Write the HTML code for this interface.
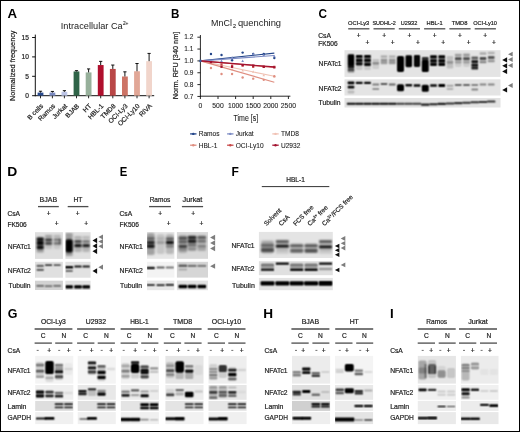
<!DOCTYPE html>
<html><head><meta charset="utf-8"><style>
html,body{margin:0;padding:0;background:#fff;}
body{width:520px;height:432px;overflow:hidden;}
svg{display:block;font-family:"Liberation Sans", sans-serif;will-change:transform;}
text{stroke:currentColor;}
</style></head><body>
<svg width="520" height="432" viewBox="0 0 520 432">
<defs>
<filter id="k1" x="-20%" y="-20%" width="140%" height="140%"><feConvolveMatrix order="3" kernelMatrix="1 2 1 2 4 2 1 2 1" divisor="16" edgeMode="none"/></filter><filter id="k2" x="-20%" y="-20%" width="140%" height="140%"><feConvolveMatrix order="3" kernelMatrix="1 2 1 2 4 2 1 2 1" divisor="16" edgeMode="none"/><feConvolveMatrix order="3" kernelMatrix="1 2 1 2 4 2 1 2 1" divisor="16" edgeMode="none"/></filter>
</defs>
<rect width="520" height="432" fill="#fff"/>
<text transform="translate(7.57 17.80) scale(1.049 1)" font-size="12.65" font-weight="bold" fill="#000" stroke-width="0">A</text>
<text x="60.80" y="28.50" font-size="9.1" fill="#1a1a1a" style="color:#1a1a1a" stroke-width="0.0" textLength="61.90" lengthAdjust="spacingAndGlyphs">Intracellular Ca</text>
<text x="122.90" y="25.00" font-size="4.8" fill="#1a1a1a" style="color:#1a1a1a" stroke-width="0.1">2+</text>
<text x="14.60" y="100.90" font-size="7.6" fill="#1a1a1a" style="color:#1a1a1a" stroke-width="0.2" textLength="70.30" lengthAdjust="spacingAndGlyphs" transform="rotate(-90 14.60 100.90)">Normalized frequency</text>
<line x1="35.30" y1="34.60" x2="35.30" y2="96.20" stroke="#111" stroke-width="1.0"/>
<line x1="34.80" y1="95.70" x2="154.20" y2="95.70" stroke="#111" stroke-width="1.0"/>
<line x1="32.10" y1="95.70" x2="35.30" y2="95.70" stroke="#111" stroke-width="1.0"/>
<text x="28.90" y="98.00" font-size="6.6" text-anchor="end" fill="#222" style="color:#222" stroke-width="0.2">0</text>
<line x1="32.10" y1="76.30" x2="35.30" y2="76.30" stroke="#111" stroke-width="1.0"/>
<text x="28.90" y="78.60" font-size="6.6" text-anchor="end" fill="#222" style="color:#222" stroke-width="0.2">5</text>
<line x1="32.10" y1="56.90" x2="35.30" y2="56.90" stroke="#111" stroke-width="1.0"/>
<text x="28.90" y="59.20" font-size="6.6" text-anchor="end" fill="#222" style="color:#222" stroke-width="0.2">10</text>
<line x1="32.10" y1="37.50" x2="35.30" y2="37.50" stroke="#111" stroke-width="1.0"/>
<text x="28.90" y="39.80" font-size="6.6" text-anchor="end" fill="#222" style="color:#222" stroke-width="0.2">15</text>
<rect x="37.60" y="92.60" width="5.80" height="3.10" fill="#284a8c"/>
<line x1="40.50" y1="92.60" x2="40.50" y2="91.24" stroke="#111" stroke-width="1.0"/>
<line x1="38.90" y1="91.24" x2="42.10" y2="91.24" stroke="#111" stroke-width="1.0"/>
<line x1="40.50" y1="95.70" x2="40.50" y2="98.30" stroke="#111" stroke-width="0.9"/>
<text x="43.70" y="106.50" font-size="6.6" text-anchor="end" fill="#222" style="color:#222" stroke-width="0.2" transform="rotate(-45 43.70 106.50)">B cells</text>
<rect x="49.50" y="92.60" width="5.80" height="3.10" fill="#7b8ac1"/>
<line x1="52.40" y1="92.60" x2="52.40" y2="91.43" stroke="#111" stroke-width="1.0"/>
<line x1="50.80" y1="91.43" x2="54.00" y2="91.43" stroke="#111" stroke-width="1.0"/>
<line x1="52.40" y1="95.70" x2="52.40" y2="98.30" stroke="#111" stroke-width="0.9"/>
<text x="55.60" y="106.50" font-size="6.6" text-anchor="end" fill="#222" style="color:#222" stroke-width="0.2" transform="rotate(-45 55.60 106.50)">Ramos</text>
<rect x="61.50" y="91.82" width="5.80" height="3.88" fill="#bdc5e6"/>
<line x1="64.40" y1="91.82" x2="64.40" y2="90.66" stroke="#111" stroke-width="1.0"/>
<line x1="62.80" y1="90.66" x2="66.00" y2="90.66" stroke="#111" stroke-width="1.0"/>
<line x1="64.40" y1="95.70" x2="64.40" y2="98.30" stroke="#111" stroke-width="0.9"/>
<text x="67.60" y="106.50" font-size="6.6" text-anchor="end" fill="#222" style="color:#222" stroke-width="0.2" transform="rotate(-45 67.60 106.50)">Jurkat</text>
<rect x="73.60" y="71.45" width="5.80" height="24.25" fill="#2f6448"/>
<line x1="76.50" y1="71.45" x2="76.50" y2="70.67" stroke="#111" stroke-width="1.0"/>
<line x1="74.90" y1="70.67" x2="78.10" y2="70.67" stroke="#111" stroke-width="1.0"/>
<line x1="76.50" y1="95.70" x2="76.50" y2="98.30" stroke="#111" stroke-width="0.9"/>
<text x="79.70" y="106.50" font-size="6.6" text-anchor="end" fill="#222" style="color:#222" stroke-width="0.2" transform="rotate(-45 79.70 106.50)">BJAB</text>
<rect x="85.70" y="72.42" width="5.80" height="23.28" fill="#97b09b"/>
<line x1="88.60" y1="72.42" x2="88.60" y2="68.93" stroke="#111" stroke-width="1.0"/>
<line x1="87.00" y1="68.93" x2="90.20" y2="68.93" stroke="#111" stroke-width="1.0"/>
<line x1="88.60" y1="95.70" x2="88.60" y2="98.30" stroke="#111" stroke-width="0.9"/>
<text x="91.80" y="106.50" font-size="6.6" text-anchor="end" fill="#222" style="color:#222" stroke-width="0.2" transform="rotate(-45 91.80 106.50)">HT</text>
<rect x="97.80" y="65.05" width="5.80" height="30.65" fill="#b0102e"/>
<line x1="100.70" y1="65.05" x2="100.70" y2="61.36" stroke="#111" stroke-width="1.0"/>
<line x1="99.10" y1="61.36" x2="102.30" y2="61.36" stroke="#111" stroke-width="1.0"/>
<line x1="100.70" y1="95.70" x2="100.70" y2="98.30" stroke="#111" stroke-width="0.9"/>
<text x="103.90" y="106.50" font-size="6.6" text-anchor="end" fill="#222" style="color:#222" stroke-width="0.2" transform="rotate(-45 103.90 106.50)">HBL-1</text>
<rect x="109.90" y="68.93" width="5.80" height="26.77" fill="#b94747"/>
<line x1="112.80" y1="68.93" x2="112.80" y2="65.05" stroke="#111" stroke-width="1.0"/>
<line x1="111.20" y1="65.05" x2="114.40" y2="65.05" stroke="#111" stroke-width="1.0"/>
<line x1="112.80" y1="95.70" x2="112.80" y2="98.30" stroke="#111" stroke-width="0.9"/>
<text x="116.00" y="106.50" font-size="6.6" text-anchor="end" fill="#222" style="color:#222" stroke-width="0.2" transform="rotate(-45 116.00 106.50)">TMD8</text>
<rect x="122.00" y="76.49" width="5.80" height="19.21" fill="#cd7466"/>
<line x1="124.90" y1="76.49" x2="124.90" y2="71.84" stroke="#111" stroke-width="1.0"/>
<line x1="123.30" y1="71.84" x2="126.50" y2="71.84" stroke="#111" stroke-width="1.0"/>
<line x1="124.90" y1="95.70" x2="124.90" y2="98.30" stroke="#111" stroke-width="0.9"/>
<text x="128.10" y="106.50" font-size="6.6" text-anchor="end" fill="#222" style="color:#222" stroke-width="0.2" transform="rotate(-45 128.10 106.50)">OCI-Ly3</text>
<rect x="134.10" y="71.26" width="5.80" height="24.44" fill="#e1a797"/>
<line x1="137.00" y1="71.26" x2="137.00" y2="63.50" stroke="#111" stroke-width="1.0"/>
<line x1="135.40" y1="63.50" x2="138.60" y2="63.50" stroke="#111" stroke-width="1.0"/>
<line x1="137.00" y1="95.70" x2="137.00" y2="98.30" stroke="#111" stroke-width="0.9"/>
<text x="140.20" y="106.50" font-size="6.6" text-anchor="end" fill="#222" style="color:#222" stroke-width="0.2" transform="rotate(-45 140.20 106.50)">OCI-Ly10</text>
<rect x="146.20" y="61.17" width="5.80" height="34.53" fill="#f1d5cb"/>
<line x1="149.10" y1="61.17" x2="149.10" y2="53.41" stroke="#111" stroke-width="1.0"/>
<line x1="147.50" y1="53.41" x2="150.70" y2="53.41" stroke="#111" stroke-width="1.0"/>
<line x1="149.10" y1="95.70" x2="149.10" y2="98.30" stroke="#111" stroke-width="0.9"/>
<text x="152.30" y="106.50" font-size="6.6" text-anchor="end" fill="#222" style="color:#222" stroke-width="0.2" transform="rotate(-45 152.30 106.50)">RIVA</text>
<text transform="translate(171.02 17.80) scale(0.942 1)" font-size="12.35" font-weight="bold" fill="#000" stroke-width="0">B</text>
<text x="211.10" y="25.50" font-size="8.7" fill="#1a1a1a" style="color:#1a1a1a" stroke-width="0.0" textLength="20.80" lengthAdjust="spacingAndGlyphs">MnCl</text>
<text x="233.00" y="28.40" font-size="5.4" fill="#1a1a1a" style="color:#1a1a1a" stroke-width="0.1">2</text>
<text x="237.90" y="25.50" font-size="8.7" fill="#1a1a1a" style="color:#1a1a1a" stroke-width="0.0" textLength="43.20" lengthAdjust="spacingAndGlyphs">quenching</text>
<text x="177.60" y="99.30" font-size="7.8" fill="#1a1a1a" style="color:#1a1a1a" stroke-width="0.2" textLength="67.60" lengthAdjust="spacingAndGlyphs" transform="rotate(-90 177.60 99.30)">Norm. RFU [340 nm]</text>
<line x1="200.40" y1="35.00" x2="200.40" y2="96.60" stroke="#111" stroke-width="0.9"/>
<line x1="200.00" y1="96.20" x2="290.40" y2="96.20" stroke="#111" stroke-width="0.9"/>
<line x1="197.40" y1="96.45" x2="200.40" y2="96.45" stroke="#111" stroke-width="0.9"/>
<text x="193.40" y="98.65" font-size="6.5" text-anchor="end" fill="#222" style="color:#222" stroke-width="0.08">0.7</text>
<line x1="197.40" y1="84.60" x2="200.40" y2="84.60" stroke="#111" stroke-width="0.9"/>
<text x="193.40" y="86.80" font-size="6.5" text-anchor="end" fill="#222" style="color:#222" stroke-width="0.08">0.8</text>
<line x1="197.40" y1="72.75" x2="200.40" y2="72.75" stroke="#111" stroke-width="0.9"/>
<text x="193.40" y="74.95" font-size="6.5" text-anchor="end" fill="#222" style="color:#222" stroke-width="0.08">0.9</text>
<line x1="197.40" y1="60.90" x2="200.40" y2="60.90" stroke="#111" stroke-width="0.9"/>
<text x="193.40" y="63.10" font-size="6.5" text-anchor="end" fill="#222" style="color:#222" stroke-width="0.08">1.0</text>
<line x1="197.40" y1="49.05" x2="200.40" y2="49.05" stroke="#111" stroke-width="0.9"/>
<text x="193.40" y="51.25" font-size="6.5" text-anchor="end" fill="#222" style="color:#222" stroke-width="0.08">1.1</text>
<line x1="197.40" y1="37.20" x2="200.40" y2="37.20" stroke="#111" stroke-width="0.9"/>
<text x="193.40" y="39.40" font-size="6.5" text-anchor="end" fill="#222" style="color:#222" stroke-width="0.08">1.2</text>
<line x1="200.40" y1="96.20" x2="200.40" y2="99.00" stroke="#111" stroke-width="0.9"/>
<text x="200.40" y="107.60" font-size="6.8" text-anchor="middle" fill="#222" style="color:#222" stroke-width="0.08">0</text>
<line x1="218.00" y1="96.20" x2="218.00" y2="99.00" stroke="#111" stroke-width="0.9"/>
<text x="218.00" y="107.60" font-size="6.8" text-anchor="middle" fill="#222" style="color:#222" stroke-width="0.08">500</text>
<line x1="235.60" y1="96.20" x2="235.60" y2="99.00" stroke="#111" stroke-width="0.9"/>
<text x="235.60" y="107.60" font-size="6.8" text-anchor="middle" fill="#222" style="color:#222" stroke-width="0.08">1000</text>
<line x1="253.20" y1="96.20" x2="253.20" y2="99.00" stroke="#111" stroke-width="0.9"/>
<text x="253.20" y="107.60" font-size="6.8" text-anchor="middle" fill="#222" style="color:#222" stroke-width="0.08">1500</text>
<line x1="270.80" y1="96.20" x2="270.80" y2="99.00" stroke="#111" stroke-width="0.9"/>
<text x="270.80" y="107.60" font-size="6.8" text-anchor="middle" fill="#222" style="color:#222" stroke-width="0.08">2000</text>
<line x1="288.40" y1="96.20" x2="288.40" y2="99.00" stroke="#111" stroke-width="0.9"/>
<text x="288.40" y="107.60" font-size="6.8" text-anchor="middle" fill="#222" style="color:#222" stroke-width="0.08">2500</text>
<text x="245.80" y="121.30" font-size="8.5" text-anchor="middle" fill="#1a1a1a" style="color:#1a1a1a" stroke-width="0.08" textLength="24.60" lengthAdjust="spacingAndGlyphs">Time [s]</text>
<line x1="200.40" y1="60.90" x2="274.32" y2="53.08" stroke="#24468a" stroke-width="1.1"/>
<circle cx="210.96" cy="54.03" r="1.2" fill="#24468a"/>
<circle cx="221.52" cy="54.97" r="1.2" fill="#24468a"/>
<circle cx="232.08" cy="60.31" r="1.2" fill="#24468a"/>
<circle cx="242.64" cy="52.60" r="1.2" fill="#24468a"/>
<circle cx="253.20" cy="54.03" r="1.2" fill="#24468a"/>
<circle cx="263.76" cy="54.03" r="1.2" fill="#24468a"/>
<circle cx="274.32" cy="57.94" r="1.2" fill="#24468a"/>
<line x1="200.40" y1="60.90" x2="274.32" y2="55.57" stroke="#7d8cc4" stroke-width="1.1"/>
<path d="M209.66 63.19 L212.26 63.19 L210.96 60.79Z" fill="#7d8cc4"/>
<path d="M220.22 62.00 L222.82 62.00 L221.52 59.60Z" fill="#7d8cc4"/>
<path d="M230.78 58.45 L233.38 58.45 L232.08 56.05Z" fill="#7d8cc4"/>
<path d="M241.34 62.00 L243.94 62.00 L242.64 59.60Z" fill="#7d8cc4"/>
<path d="M251.90 54.89 L254.50 54.89 L253.20 52.49Z" fill="#7d8cc4"/>
<path d="M262.46 56.07 L265.06 56.07 L263.76 53.67Z" fill="#7d8cc4"/>
<path d="M273.02 57.26 L275.62 57.26 L274.32 54.86Z" fill="#7d8cc4"/>
<line x1="200.40" y1="60.90" x2="274.32" y2="76.31" stroke="#f0c2b4" stroke-width="1.1"/>
<path d="M209.66 63.19 L212.26 63.19 L210.96 60.79Z" fill="#f0c2b4"/>
<path d="M220.22 66.74 L222.82 66.74 L221.52 64.34Z" fill="#f0c2b4"/>
<path d="M230.78 70.29 L233.38 70.29 L232.08 67.89Z" fill="#f0c2b4"/>
<path d="M241.34 71.48 L243.94 71.48 L242.64 69.08Z" fill="#f0c2b4"/>
<path d="M251.90 72.66 L254.50 72.66 L253.20 70.27Z" fill="#f0c2b4"/>
<path d="M262.46 76.22 L265.06 76.22 L263.76 73.82Z" fill="#f0c2b4"/>
<path d="M273.02 77.41 L275.62 77.41 L274.32 75.01Z" fill="#f0c2b4"/>
<line x1="200.40" y1="60.90" x2="274.32" y2="82.23" stroke="#df8e80" stroke-width="1.1"/>
<circle cx="210.96" cy="68.01" r="1.2" fill="#df8e80"/>
<circle cx="221.52" cy="73.94" r="1.2" fill="#df8e80"/>
<circle cx="232.08" cy="73.94" r="1.2" fill="#df8e80"/>
<circle cx="242.64" cy="77.49" r="1.2" fill="#df8e80"/>
<circle cx="253.20" cy="78.67" r="1.2" fill="#df8e80"/>
<circle cx="263.76" cy="79.86" r="1.2" fill="#df8e80"/>
<circle cx="274.32" cy="76.31" r="1.2" fill="#df8e80"/>
<line x1="200.40" y1="60.90" x2="274.32" y2="67.42" stroke="#c84848" stroke-width="1.1"/>
<rect x="209.86" y="60.98" width="2.20" height="2.20" fill="#c84848"/>
<rect x="220.42" y="63.35" width="2.20" height="2.20" fill="#c84848"/>
<rect x="230.98" y="64.54" width="2.20" height="2.20" fill="#c84848"/>
<rect x="241.54" y="64.54" width="2.20" height="2.20" fill="#c84848"/>
<rect x="252.10" y="65.73" width="2.20" height="2.20" fill="#c84848"/>
<rect x="262.66" y="65.73" width="2.20" height="2.20" fill="#c84848"/>
<rect x="273.22" y="65.73" width="2.20" height="2.20" fill="#c84848"/>
<line x1="200.40" y1="60.90" x2="274.32" y2="66.83" stroke="#a3122f" stroke-width="1.1"/>
<rect x="209.86" y="60.98" width="2.20" height="2.20" fill="#a3122f"/>
<rect x="220.42" y="65.73" width="2.20" height="2.20" fill="#a3122f"/>
<rect x="230.98" y="65.73" width="2.20" height="2.20" fill="#a3122f"/>
<rect x="241.54" y="63.95" width="2.20" height="2.20" fill="#a3122f"/>
<rect x="252.10" y="64.54" width="2.20" height="2.20" fill="#a3122f"/>
<rect x="262.66" y="65.73" width="2.20" height="2.20" fill="#a3122f"/>
<rect x="273.22" y="66.32" width="2.20" height="2.20" fill="#a3122f"/>
<circle cx="200.40" cy="60.90" r="1.3" fill="#3a5a9a"/>
<line x1="190.10" y1="133.90" x2="196.50" y2="133.90" stroke="#24468a" stroke-width="1.3"/>
<circle cx="193.30" cy="133.90" r="1.2" fill="#24468a"/>
<text x="198.70" y="136.20" font-size="6.6" fill="#222" style="color:#222" stroke-width="0.08">Ramos</text>
<line x1="227.10" y1="133.90" x2="233.50" y2="133.90" stroke="#7d8cc4" stroke-width="1.3"/>
<circle cx="230.30" cy="133.90" r="1.2" fill="#7d8cc4"/>
<text x="235.70" y="136.20" font-size="6.6" fill="#222" style="color:#222" stroke-width="0.08">Jurkat</text>
<line x1="272.30" y1="133.90" x2="278.70" y2="133.90" stroke="#f0c2b4" stroke-width="1.3"/>
<circle cx="275.50" cy="133.90" r="1.2" fill="#f0c2b4"/>
<text x="280.90" y="136.20" font-size="6.6" fill="#222" style="color:#222" stroke-width="0.08">TMD8</text>
<line x1="190.10" y1="145.20" x2="196.50" y2="145.20" stroke="#df8e80" stroke-width="1.3"/>
<circle cx="193.30" cy="145.20" r="1.2" fill="#df8e80"/>
<text x="198.70" y="147.50" font-size="6.6" fill="#222" style="color:#222" stroke-width="0.08">HBL-1</text>
<line x1="227.10" y1="145.20" x2="233.50" y2="145.20" stroke="#c84848" stroke-width="1.3"/>
<circle cx="230.30" cy="145.20" r="1.2" fill="#c84848"/>
<text x="235.70" y="147.50" font-size="6.6" fill="#222" style="color:#222" stroke-width="0.08">OCI-Ly10</text>
<line x1="272.30" y1="145.20" x2="278.70" y2="145.20" stroke="#a3122f" stroke-width="1.3"/>
<circle cx="275.50" cy="145.20" r="1.2" fill="#a3122f"/>
<text x="280.90" y="147.50" font-size="6.6" fill="#222" style="color:#222" stroke-width="0.08">U2932</text>
<text transform="translate(318.52 18.07) scale(0.916 1)" font-size="12.85" font-weight="bold" fill="#000" stroke-width="0">C</text>
<text x="358.70" y="24.50" font-size="5.8" text-anchor="middle" fill="#222" style="color:#222" stroke-width="0.2" textLength="21.20" lengthAdjust="spacingAndGlyphs">OCI-Ly3</text>
<text x="384.10" y="24.50" font-size="5.8" text-anchor="middle" fill="#222" style="color:#222" stroke-width="0.2" textLength="23.40" lengthAdjust="spacingAndGlyphs">SUDHL-2</text>
<text x="409.00" y="24.50" font-size="5.8" text-anchor="middle" fill="#222" style="color:#222" stroke-width="0.2" textLength="16.60" lengthAdjust="spacingAndGlyphs">U2932</text>
<text x="434.60" y="24.50" font-size="5.8" text-anchor="middle" fill="#222" style="color:#222" stroke-width="0.2" textLength="16.20" lengthAdjust="spacingAndGlyphs">HBL-1</text>
<text x="459.60" y="24.50" font-size="5.8" text-anchor="middle" fill="#222" style="color:#222" stroke-width="0.2" textLength="15.80" lengthAdjust="spacingAndGlyphs">TMD8</text>
<text x="485.10" y="24.50" font-size="5.8" text-anchor="middle" fill="#222" style="color:#222" stroke-width="0.2" textLength="23.80" lengthAdjust="spacingAndGlyphs">OCI-Ly10</text>
<line x1="348.20" y1="28.80" x2="369.40" y2="28.80" stroke="#4d4d4d" stroke-width="1.3"/>
<line x1="373.50" y1="28.80" x2="394.70" y2="28.80" stroke="#4d4d4d" stroke-width="1.3"/>
<line x1="398.80" y1="28.80" x2="420.00" y2="28.80" stroke="#4d4d4d" stroke-width="1.3"/>
<line x1="424.10" y1="28.80" x2="445.30" y2="28.80" stroke="#4d4d4d" stroke-width="1.3"/>
<line x1="449.40" y1="28.80" x2="470.60" y2="28.80" stroke="#4d4d4d" stroke-width="1.3"/>
<line x1="474.70" y1="28.80" x2="495.90" y2="28.80" stroke="#4d4d4d" stroke-width="1.3"/>
<text x="318.30" y="38.00" font-size="6.6" fill="#1e1e1e" style="color:#1e1e1e" stroke-width="0.2" textLength="12.60" lengthAdjust="spacingAndGlyphs">CsA</text>
<text x="318.30" y="46.00" font-size="6.6" fill="#1e1e1e" style="color:#1e1e1e" stroke-width="0.2" textLength="19.40" lengthAdjust="spacingAndGlyphs">FK506</text>
<text x="358.80" y="37.75" font-size="6.6" text-anchor="middle" fill="#222" style="color:#222" stroke-width="0.2">+</text>
<text x="367.40" y="44.65" font-size="6.6" text-anchor="middle" fill="#222" style="color:#222" stroke-width="0.2">+</text>
<text x="384.10" y="37.75" font-size="6.6" text-anchor="middle" fill="#222" style="color:#222" stroke-width="0.2">+</text>
<text x="392.70" y="44.65" font-size="6.6" text-anchor="middle" fill="#222" style="color:#222" stroke-width="0.2">+</text>
<text x="409.40" y="37.75" font-size="6.6" text-anchor="middle" fill="#222" style="color:#222" stroke-width="0.2">+</text>
<text x="418.00" y="44.65" font-size="6.6" text-anchor="middle" fill="#222" style="color:#222" stroke-width="0.2">+</text>
<text x="434.70" y="37.75" font-size="6.6" text-anchor="middle" fill="#222" style="color:#222" stroke-width="0.2">+</text>
<text x="443.30" y="44.65" font-size="6.6" text-anchor="middle" fill="#222" style="color:#222" stroke-width="0.2">+</text>
<text x="460.00" y="37.75" font-size="6.6" text-anchor="middle" fill="#222" style="color:#222" stroke-width="0.2">+</text>
<text x="468.60" y="44.65" font-size="6.6" text-anchor="middle" fill="#222" style="color:#222" stroke-width="0.2">+</text>
<text x="485.30" y="37.75" font-size="6.6" text-anchor="middle" fill="#222" style="color:#222" stroke-width="0.2">+</text>
<text x="493.90" y="44.65" font-size="6.6" text-anchor="middle" fill="#222" style="color:#222" stroke-width="0.2">+</text>
<text x="318.60" y="66.40" font-size="7.1" fill="#1e1e1e" style="color:#1e1e1e" stroke-width="0.2" textLength="23.00" lengthAdjust="spacingAndGlyphs">NFATc1</text>
<text x="318.60" y="90.60" font-size="7.1" fill="#1e1e1e" style="color:#1e1e1e" stroke-width="0.2" textLength="23.00" lengthAdjust="spacingAndGlyphs">NFATc2</text>
<text x="318.60" y="104.60" font-size="7.1" fill="#1e1e1e" style="color:#1e1e1e" stroke-width="0.2" textLength="22.00" lengthAdjust="spacingAndGlyphs">Tubulin</text>
<clipPath id="c193"><rect x="344.50" y="50.20" width="156.00" height="26.70"/></clipPath>
<rect x="344.50" y="50.20" width="156.00" height="26.70" fill="#e4e4e4"/>
<g clip-path="url(#c193)"><g filter="url(#k1)"><rect x="347.70" y="54.25" width="6.60" height="11.50" rx="1.48" fill-opacity="1.00"/><rect x="347.70" y="65.00" width="6.60" height="3.00" rx="0.68" fill-opacity="0.90"/><rect x="347.70" y="68.20" width="6.60" height="2.60" rx="0.59" fill-opacity="0.75"/><rect x="347.70" y="70.50" width="6.60" height="2.00" rx="0.45" fill-opacity="0.40"/><rect x="355.95" y="55.00" width="6.60" height="2.80" rx="0.63" fill-opacity="1.00"/><rect x="355.95" y="59.00" width="6.60" height="2.80" rx="0.63" fill-opacity="1.00"/><rect x="355.95" y="62.60" width="6.60" height="2.80" rx="0.63" fill-opacity="0.95"/><rect x="355.95" y="55.70" width="6.60" height="9.00" rx="1.48" fill-opacity="0.45"/><rect x="355.95" y="66.00" width="6.60" height="4.00" rx="0.90" fill-opacity="0.12"/><rect x="364.20" y="55.00" width="6.60" height="2.80" rx="0.63" fill-opacity="1.00"/><rect x="364.20" y="59.00" width="6.60" height="2.80" rx="0.63" fill-opacity="1.00"/><rect x="364.20" y="63.10" width="6.60" height="2.80" rx="0.63" fill-opacity="0.95"/><rect x="364.20" y="55.90" width="6.60" height="9.00" rx="1.48" fill-opacity="0.45"/><rect x="364.20" y="66.00" width="6.60" height="4.00" rx="0.90" fill-opacity="0.12"/><rect x="372.45" y="59.30" width="6.60" height="2.20" rx="0.50" fill-opacity="0.18"/><rect x="372.45" y="62.00" width="6.60" height="2.60" rx="0.59" fill-opacity="0.38"/><rect x="372.45" y="64.00" width="6.60" height="5.00" rx="1.12" fill-opacity="0.10"/><rect x="380.70" y="55.20" width="6.60" height="2.40" rx="0.54" fill-opacity="0.20"/><rect x="380.70" y="59.10" width="6.60" height="2.60" rx="0.59" fill-opacity="0.30"/><rect x="380.70" y="61.80" width="6.60" height="2.40" rx="0.54" fill-opacity="0.26"/><rect x="380.70" y="56.00" width="6.60" height="8.00" rx="1.48" fill-opacity="0.08"/><rect x="388.95" y="55.20" width="6.60" height="2.40" rx="0.54" fill-opacity="0.18"/><rect x="388.95" y="59.10" width="6.60" height="2.60" rx="0.59" fill-opacity="0.30"/><rect x="388.95" y="61.80" width="6.60" height="2.40" rx="0.54" fill-opacity="0.28"/><rect x="388.95" y="56.00" width="6.60" height="8.00" rx="1.48" fill-opacity="0.08"/><rect x="397.04" y="55.90" width="6.93" height="16.00" rx="1.56" fill-opacity="1.00"/><rect x="405.45" y="55.20" width="6.60" height="12.00" rx="1.48" fill-opacity="1.00"/><rect x="413.87" y="55.00" width="6.27" height="12.00" rx="1.41" fill-opacity="0.97"/><rect x="421.95" y="57.00" width="6.60" height="4.00" rx="0.90" fill-opacity="0.80"/><rect x="421.79" y="60.00" width="6.93" height="12.00" rx="1.56" fill-opacity="1.00"/><rect x="430.20" y="55.20" width="6.60" height="2.80" rx="0.63" fill-opacity="1.00"/><rect x="430.20" y="59.40" width="6.60" height="2.80" rx="0.63" fill-opacity="1.00"/><rect x="430.20" y="63.10" width="6.60" height="2.80" rx="0.63" fill-opacity="0.95"/><rect x="430.20" y="56.00" width="6.60" height="9.00" rx="1.48" fill-opacity="0.50"/><rect x="438.45" y="55.20" width="6.60" height="2.80" rx="0.63" fill-opacity="1.00"/><rect x="438.45" y="59.40" width="6.60" height="2.80" rx="0.63" fill-opacity="1.00"/><rect x="438.45" y="63.10" width="6.60" height="2.80" rx="0.63" fill-opacity="0.95"/><rect x="438.45" y="56.00" width="6.60" height="9.00" rx="1.48" fill-opacity="0.50"/><rect x="446.70" y="56.00" width="6.60" height="4.00" rx="0.90" fill-opacity="0.16"/><rect x="446.70" y="60.50" width="6.60" height="3.00" rx="0.68" fill-opacity="0.32"/><rect x="446.70" y="62.50" width="6.60" height="6.00" rx="1.35" fill-opacity="0.16"/><rect x="454.95" y="53.70" width="6.60" height="2.40" rx="0.54" fill-opacity="0.28"/><rect x="454.95" y="57.30" width="6.60" height="2.80" rx="0.63" fill-opacity="0.62"/><rect x="454.95" y="60.50" width="6.60" height="3.00" rx="0.68" fill-opacity="0.22"/><rect x="454.95" y="55.00" width="6.60" height="12.00" rx="1.48" fill-opacity="0.10"/><rect x="463.20" y="53.50" width="6.60" height="2.40" rx="0.54" fill-opacity="0.30"/><rect x="463.20" y="57.20" width="6.60" height="2.80" rx="0.63" fill-opacity="0.62"/><rect x="463.20" y="60.50" width="6.60" height="3.00" rx="0.68" fill-opacity="0.22"/><rect x="463.20" y="55.00" width="6.60" height="12.00" rx="1.48" fill-opacity="0.10"/><rect x="471.45" y="56.50" width="6.60" height="2.60" rx="0.59" fill-opacity="0.50"/><rect x="471.45" y="60.20" width="6.60" height="2.80" rx="0.63" fill-opacity="0.88"/><rect x="471.45" y="63.80" width="6.60" height="2.80" rx="0.63" fill-opacity="0.90"/><rect x="471.45" y="66.80" width="6.60" height="2.80" rx="0.63" fill-opacity="0.80"/><rect x="471.45" y="57.00" width="6.60" height="12.00" rx="1.48" fill-opacity="0.20"/><rect x="479.70" y="52.30" width="6.60" height="2.40" rx="0.54" fill-opacity="0.25"/><rect x="479.70" y="57.10" width="6.60" height="2.80" rx="0.63" fill-opacity="0.65"/><rect x="479.70" y="60.70" width="6.60" height="2.60" rx="0.59" fill-opacity="0.40"/><rect x="487.95" y="51.80" width="6.60" height="2.40" rx="0.54" fill-opacity="0.22"/><rect x="487.95" y="56.10" width="6.60" height="2.80" rx="0.63" fill-opacity="0.60"/><rect x="487.95" y="59.70" width="6.60" height="2.60" rx="0.59" fill-opacity="0.35"/></g></g>
<clipPath id="c196"><rect x="344.50" y="79.30" width="156.00" height="16.20"/></clipPath>
<rect x="344.50" y="79.30" width="156.00" height="16.20" fill="#e4e4e4"/>
<g clip-path="url(#c196)"><g filter="url(#k1)"><rect x="347.70" y="81.60" width="6.60" height="2.60" rx="0.59" fill-opacity="1.00"/><rect x="347.70" y="85.80" width="6.60" height="2.60" rx="0.59" fill-opacity="0.95"/><rect x="347.70" y="90.50" width="6.60" height="3.00" rx="0.68" fill-opacity="0.18"/><rect x="355.95" y="81.80" width="6.60" height="2.20" rx="0.50" fill-opacity="0.95"/><rect x="364.20" y="81.80" width="6.60" height="2.20" rx="0.50" fill-opacity="0.95"/><rect x="372.45" y="83.40" width="6.60" height="2.20" rx="0.50" fill-opacity="0.45"/><rect x="372.45" y="87.90" width="6.60" height="2.20" rx="0.50" fill-opacity="0.35"/><rect x="380.70" y="83.00" width="6.60" height="2.00" rx="0.45" fill-opacity="0.60"/><rect x="388.95" y="83.50" width="6.60" height="2.00" rx="0.45" fill-opacity="0.55"/><rect x="397.04" y="84.30" width="6.93" height="7.00" rx="1.56" fill-opacity="1.00"/><rect x="405.45" y="84.00" width="6.60" height="2.40" rx="0.54" fill-opacity="0.95"/><rect x="413.70" y="84.30" width="6.60" height="2.40" rx="0.54" fill-opacity="0.95"/><rect x="421.79" y="84.70" width="6.93" height="7.00" rx="1.56" fill-opacity="1.00"/><rect x="430.20" y="84.30" width="6.60" height="2.40" rx="0.54" fill-opacity="0.95"/><rect x="438.45" y="84.00" width="6.60" height="3.00" rx="0.68" fill-opacity="1.00"/><rect x="446.70" y="84.70" width="6.60" height="2.00" rx="0.45" fill-opacity="0.28"/><rect x="446.70" y="88.00" width="6.60" height="2.00" rx="0.45" fill-opacity="0.22"/><rect x="454.95" y="84.00" width="6.60" height="2.00" rx="0.45" fill-opacity="0.55"/><rect x="463.20" y="84.00" width="6.60" height="2.00" rx="0.45" fill-opacity="0.55"/><rect x="471.45" y="84.00" width="6.60" height="2.00" rx="0.45" fill-opacity="0.42"/><rect x="471.45" y="88.50" width="6.60" height="2.00" rx="0.45" fill-opacity="0.42"/><rect x="479.70" y="83.50" width="6.60" height="2.00" rx="0.45" fill-opacity="0.42"/><rect x="487.95" y="83.50" width="6.60" height="2.00" rx="0.45" fill-opacity="0.42"/></g></g>
<clipPath id="c199"><rect x="344.50" y="98.00" width="156.00" height="9.50"/></clipPath>
<rect x="344.50" y="98.00" width="156.00" height="9.50" fill="#e2e2e2"/>
<g clip-path="url(#c199)"><g filter="url(#k1)"><rect x="346.88" y="102.65" width="8.25" height="2.10" rx="0.47" fill-opacity="0.95"/><rect x="355.12" y="102.65" width="8.25" height="2.10" rx="0.47" fill-opacity="0.95"/><rect x="363.38" y="102.65" width="8.25" height="2.10" rx="0.47" fill-opacity="0.95"/><rect x="371.62" y="102.65" width="8.25" height="2.10" rx="0.47" fill-opacity="0.95"/><rect x="379.88" y="102.65" width="8.25" height="2.10" rx="0.47" fill-opacity="0.95"/><rect x="388.12" y="102.65" width="8.25" height="2.10" rx="0.47" fill-opacity="0.95"/><rect x="396.38" y="102.65" width="8.25" height="2.10" rx="0.47" fill-opacity="0.72"/><rect x="404.62" y="102.65" width="8.25" height="2.10" rx="0.47" fill-opacity="0.72"/><rect x="412.88" y="102.65" width="8.25" height="2.10" rx="0.47" fill-opacity="0.72"/><rect x="421.12" y="103.55" width="8.25" height="2.10" rx="0.47" fill-opacity="0.85"/><rect x="429.38" y="103.17" width="8.25" height="2.10" rx="0.47" fill-opacity="0.85"/><rect x="437.62" y="102.79" width="8.25" height="2.10" rx="0.47" fill-opacity="0.85"/><rect x="445.88" y="102.41" width="8.25" height="2.10" rx="0.47" fill-opacity="0.78"/><rect x="454.12" y="102.03" width="8.25" height="2.10" rx="0.47" fill-opacity="0.78"/><rect x="462.38" y="101.65" width="8.25" height="2.10" rx="0.47" fill-opacity="0.78"/><rect x="470.62" y="101.27" width="8.25" height="2.10" rx="0.47" fill-opacity="0.78"/><rect x="478.88" y="100.89" width="8.25" height="2.10" rx="0.47" fill-opacity="0.78"/><rect x="487.12" y="100.51" width="8.25" height="2.10" rx="0.47" fill-opacity="0.78"/></g></g>
<path d="M508.00 54.20 L512.70 51.80 L512.70 56.60Z" fill="#7d7d7d"/>
<path d="M508.00 59.50 L512.70 57.10 L512.70 61.90Z" fill="#7d7d7d"/>
<path d="M508.00 65.50 L512.70 63.10 L512.70 67.90Z" fill="#7d7d7d"/>
<path d="M502.20 59.90 L507.10 57.30 L507.10 62.50Z" fill="#111"/>
<path d="M502.20 65.80 L507.10 63.20 L507.10 68.40Z" fill="#111"/>
<path d="M502.20 71.40 L507.10 68.80 L507.10 74.00Z" fill="#111"/>
<path d="M508.00 85.50 L512.70 83.10 L512.70 87.90Z" fill="#7d7d7d"/>
<path d="M502.20 89.90 L507.10 87.30 L507.10 92.50Z" fill="#111"/>
<text transform="translate(7.27 175.70) scale(1.072 1)" font-size="12.94" font-weight="bold" fill="#000" stroke-width="0">D</text>
<text x="48.35" y="202.20" font-size="6.6" text-anchor="middle" fill="#222" style="color:#222" stroke-width="0.2" textLength="17.50" lengthAdjust="spacingAndGlyphs">BJAB</text>
<text x="78.00" y="202.20" font-size="6.6" text-anchor="middle" fill="#222" style="color:#222" stroke-width="0.2" textLength="8.90" lengthAdjust="spacingAndGlyphs">HT</text>
<line x1="38.00" y1="206.60" x2="58.80" y2="206.60" stroke="#4d4d4d" stroke-width="1.3"/>
<line x1="67.70" y1="206.60" x2="88.40" y2="206.60" stroke="#4d4d4d" stroke-width="1.3"/>
<text x="7.40" y="216.30" font-size="6.6" fill="#1e1e1e" style="color:#1e1e1e" stroke-width="0.2" textLength="12.60" lengthAdjust="spacingAndGlyphs">CsA</text>
<text x="7.40" y="226.50" font-size="6.6" fill="#1e1e1e" style="color:#1e1e1e" stroke-width="0.2" textLength="19.40" lengthAdjust="spacingAndGlyphs">FK506</text>
<text x="48.70" y="216.15" font-size="6.6" text-anchor="middle" fill="#222" style="color:#222" stroke-width="0.2">+</text>
<text x="77.80" y="216.15" font-size="6.6" text-anchor="middle" fill="#222" style="color:#222" stroke-width="0.2">+</text>
<text x="56.70" y="226.35" font-size="6.6" text-anchor="middle" fill="#222" style="color:#222" stroke-width="0.2">+</text>
<text x="86.10" y="226.35" font-size="6.6" text-anchor="middle" fill="#222" style="color:#222" stroke-width="0.2">+</text>
<text x="7.80" y="249.00" font-size="7.1" fill="#1e1e1e" style="color:#1e1e1e" stroke-width="0.2" textLength="23.00" lengthAdjust="spacingAndGlyphs">NFATc1</text>
<text x="7.80" y="272.70" font-size="7.1" fill="#1e1e1e" style="color:#1e1e1e" stroke-width="0.2" textLength="23.00" lengthAdjust="spacingAndGlyphs">NFATc2</text>
<text x="8.50" y="287.50" font-size="7.1" fill="#1e1e1e" style="color:#1e1e1e" stroke-width="0.2" textLength="22.00" lengthAdjust="spacingAndGlyphs">Tubulin</text>
<clipPath id="c224"><rect x="35.00" y="232.20" width="27.90" height="26.70"/></clipPath>
<rect x="35.00" y="232.20" width="27.90" height="26.70" fill="#dedede"/>
<g clip-path="url(#c224)"><g filter="url(#k2)"><rect x="36.70" y="237.60" width="7.00" height="2.80" rx="0.63" fill-opacity="0.90"/><rect x="36.70" y="241.30" width="7.00" height="3.40" rx="0.77" fill-opacity="1.00"/><rect x="36.70" y="246.00" width="7.00" height="3.00" rx="0.68" fill-opacity="0.92"/><rect x="36.70" y="237.50" width="7.00" height="12.00" rx="1.57" fill-opacity="0.55"/><rect x="36.70" y="249.50" width="7.00" height="3.00" rx="0.68" fill-opacity="0.30"/><rect x="45.10" y="235.10" width="7.00" height="2.40" rx="0.54" fill-opacity="0.30"/><rect x="45.10" y="238.40" width="7.00" height="2.80" rx="0.63" fill-opacity="0.80"/><rect x="45.10" y="241.90" width="7.00" height="2.80" rx="0.63" fill-opacity="0.70"/><rect x="45.10" y="243.00" width="7.00" height="6.00" rx="1.35" fill-opacity="0.12"/><rect x="53.70" y="235.00" width="7.00" height="2.40" rx="0.54" fill-opacity="0.20"/><rect x="53.70" y="238.50" width="7.00" height="2.60" rx="0.59" fill-opacity="0.50"/><rect x="53.70" y="242.00" width="7.00" height="2.60" rx="0.59" fill-opacity="0.50"/><rect x="53.70" y="243.00" width="7.00" height="6.00" rx="1.35" fill-opacity="0.10"/><rect x="59.12" y="238.50" width="1.75" height="6.00" rx="0.39" fill-opacity="0.50"/></g></g>
<clipPath id="c227"><rect x="65.40" y="232.20" width="25.20" height="26.70"/></clipPath>
<rect x="65.40" y="232.20" width="25.20" height="26.70" fill="#e0e0e0"/>
<g clip-path="url(#c227)"><g filter="url(#k2)"><rect x="65.50" y="233.00" width="7.20" height="6.00" rx="1.35" fill-opacity="0.30"/><rect x="65.32" y="239.25" width="7.56" height="13.30" rx="1.70" fill-opacity="1.00"/><rect x="65.50" y="252.00" width="7.20" height="4.00" rx="0.90" fill-opacity="0.30"/><rect x="74.40" y="236.30" width="7.20" height="2.40" rx="0.54" fill-opacity="0.25"/><rect x="74.40" y="240.10" width="7.20" height="2.80" rx="0.63" fill-opacity="0.70"/><rect x="74.40" y="244.10" width="7.20" height="3.00" rx="0.68" fill-opacity="0.95"/><rect x="74.40" y="246.00" width="7.20" height="6.00" rx="1.35" fill-opacity="0.22"/><rect x="82.60" y="236.30" width="7.20" height="2.40" rx="0.54" fill-opacity="0.20"/><rect x="82.60" y="240.20" width="7.20" height="2.60" rx="0.59" fill-opacity="0.55"/><rect x="82.60" y="244.10" width="7.20" height="3.00" rx="0.68" fill-opacity="0.88"/><rect x="82.60" y="246.00" width="7.20" height="6.00" rx="1.35" fill-opacity="0.20"/></g></g>
<clipPath id="c230"><rect x="35.00" y="261.80" width="27.90" height="15.90"/></clipPath>
<rect x="35.00" y="261.80" width="27.90" height="15.90" fill="#e0e0e0"/>
<g clip-path="url(#c230)"><g filter="url(#k1)"><rect x="36.70" y="264.70" width="7.00" height="2.20" rx="0.50" fill-opacity="0.55"/><rect x="36.70" y="268.70" width="7.00" height="2.20" rx="0.50" fill-opacity="0.55"/><rect x="45.10" y="264.20" width="7.00" height="1.80" rx="0.41" fill-opacity="0.72"/><rect x="53.70" y="264.20" width="7.00" height="1.80" rx="0.41" fill-opacity="0.60"/></g></g>
<clipPath id="c233"><rect x="65.40" y="261.80" width="25.20" height="15.90"/></clipPath>
<rect x="65.40" y="261.80" width="25.20" height="15.90" fill="#e2e2e2"/>
<g clip-path="url(#c233)"><g filter="url(#k1)"><rect x="65.14" y="266.00" width="7.92" height="2.60" rx="0.59" fill-opacity="0.95"/><rect x="65.50" y="269.90" width="7.20" height="2.20" rx="0.50" fill-opacity="0.50"/><rect x="74.40" y="265.40" width="7.20" height="2.20" rx="0.50" fill-opacity="0.88"/><rect x="82.60" y="265.40" width="7.20" height="2.20" rx="0.50" fill-opacity="0.85"/></g></g>
<clipPath id="c236"><rect x="35.00" y="280.70" width="27.90" height="9.30"/></clipPath>
<rect x="35.00" y="280.70" width="27.90" height="9.30" fill="#d2d2d2"/>
<g clip-path="url(#c236)"><g filter="url(#k1)"><rect x="36.53" y="284.80" width="7.35" height="2.20" rx="0.50" fill-opacity="0.42"/><rect x="44.93" y="285.00" width="7.35" height="2.20" rx="0.50" fill-opacity="0.38"/><rect x="53.53" y="284.80" width="7.35" height="2.20" rx="0.50" fill-opacity="0.40"/></g></g>
<clipPath id="c239"><rect x="65.40" y="280.70" width="25.20" height="9.30"/></clipPath>
<rect x="65.40" y="280.70" width="25.20" height="9.30" fill="#e2e2e2"/>
<g clip-path="url(#c239)"><g filter="url(#k1)"><rect x="65.32" y="285.20" width="7.56" height="3.40" rx="0.77" fill-opacity="1.00"/><rect x="74.22" y="285.20" width="7.56" height="3.40" rx="0.77" fill-opacity="1.00"/><rect x="82.42" y="285.20" width="7.56" height="3.40" rx="0.77" fill-opacity="1.00"/></g></g>
<path d="M98.40 236.90 L103.00 234.40 L103.00 239.40Z" fill="#7d7d7d"/>
<path d="M98.40 241.60 L103.00 239.10 L103.00 244.10Z" fill="#7d7d7d"/>
<path d="M98.40 246.30 L103.00 243.80 L103.00 248.80Z" fill="#7d7d7d"/>
<path d="M92.50 240.60 L97.10 237.85 L97.10 243.35Z" fill="#111"/>
<path d="M92.50 246.00 L97.10 243.25 L97.10 248.75Z" fill="#111"/>
<path d="M92.50 251.30 L97.10 248.55 L97.10 254.05Z" fill="#111"/>
<path d="M98.40 267.20 L103.00 264.55 L103.00 269.85Z" fill="#7d7d7d"/>
<path d="M92.50 271.00 L97.10 268.35 L97.10 273.65Z" fill="#111"/>
<text transform="translate(119.69 175.70) scale(0.875 1)" font-size="12.94" font-weight="bold" fill="#000" stroke-width="0">E</text>
<text x="160.00" y="202.20" font-size="6.6" text-anchor="middle" fill="#222" style="color:#222" stroke-width="0.2" textLength="20.70" lengthAdjust="spacingAndGlyphs">Ramos</text>
<text x="192.50" y="202.20" font-size="6.6" text-anchor="middle" fill="#222" style="color:#222" stroke-width="0.2" textLength="19.80" lengthAdjust="spacingAndGlyphs">Jurkat</text>
<line x1="149.10" y1="206.60" x2="170.90" y2="206.60" stroke="#4d4d4d" stroke-width="1.3"/>
<line x1="181.90" y1="206.60" x2="203.10" y2="206.60" stroke="#4d4d4d" stroke-width="1.3"/>
<text x="119.50" y="216.30" font-size="6.6" fill="#1e1e1e" style="color:#1e1e1e" stroke-width="0.2" textLength="12.60" lengthAdjust="spacingAndGlyphs">CsA</text>
<text x="119.50" y="226.50" font-size="6.6" fill="#1e1e1e" style="color:#1e1e1e" stroke-width="0.2" textLength="19.40" lengthAdjust="spacingAndGlyphs">FK506</text>
<text x="160.10" y="216.15" font-size="6.6" text-anchor="middle" fill="#222" style="color:#222" stroke-width="0.2">+</text>
<text x="193.10" y="216.15" font-size="6.6" text-anchor="middle" fill="#222" style="color:#222" stroke-width="0.2">+</text>
<text x="168.60" y="226.35" font-size="6.6" text-anchor="middle" fill="#222" style="color:#222" stroke-width="0.2">+</text>
<text x="201.40" y="226.35" font-size="6.6" text-anchor="middle" fill="#222" style="color:#222" stroke-width="0.2">+</text>
<text x="119.50" y="249.40" font-size="7.1" fill="#1e1e1e" style="color:#1e1e1e" stroke-width="0.2" textLength="23.30" lengthAdjust="spacingAndGlyphs">NFATc1</text>
<text x="119.50" y="272.70" font-size="7.1" fill="#1e1e1e" style="color:#1e1e1e" stroke-width="0.2" textLength="23.30" lengthAdjust="spacingAndGlyphs">NFATc2</text>
<text x="120.00" y="287.50" font-size="7.1" fill="#1e1e1e" style="color:#1e1e1e" stroke-width="0.2" textLength="22.00" lengthAdjust="spacingAndGlyphs">Tubulin</text>
<clipPath id="c264"><rect x="147.00" y="232.10" width="27.40" height="26.70"/></clipPath>
<rect x="147.00" y="232.10" width="27.40" height="26.70" fill="#e6e6e6"/>
<g clip-path="url(#c264)"><g filter="url(#k2)"><rect x="146.70" y="233.00" width="8.00" height="22.00" rx="1.80" fill-opacity="0.30"/><rect x="146.70" y="237.20" width="8.00" height="2.60" rx="0.59" fill-opacity="0.45"/><rect x="146.70" y="241.10" width="8.00" height="2.80" rx="0.63" fill-opacity="0.80"/><rect x="146.70" y="244.80" width="8.00" height="3.00" rx="0.68" fill-opacity="0.95"/><rect x="156.60" y="234.00" width="8.00" height="20.00" rx="1.80" fill-opacity="0.14"/><rect x="156.60" y="241.20" width="8.00" height="2.60" rx="0.59" fill-opacity="0.25"/><rect x="156.60" y="237.30" width="8.00" height="2.40" rx="0.54" fill-opacity="0.12"/><rect x="165.90" y="234.00" width="8.00" height="20.00" rx="1.80" fill-opacity="0.20"/><rect x="165.90" y="237.50" width="8.00" height="2.60" rx="0.59" fill-opacity="0.55"/><rect x="165.90" y="241.00" width="8.00" height="3.00" rx="0.68" fill-opacity="0.95"/><rect x="165.90" y="244.90" width="8.00" height="2.60" rx="0.59" fill-opacity="0.35"/></g></g>
<clipPath id="c267"><rect x="176.90" y="232.10" width="31.10" height="26.70"/></clipPath>
<rect x="176.90" y="232.10" width="31.10" height="26.70" fill="#d8d8d8"/>
<g clip-path="url(#c267)"><g filter="url(#k2)"><rect x="178.55" y="235.00" width="8.50" height="18.00" rx="1.91" fill-opacity="0.20"/><rect x="178.55" y="236.80" width="8.50" height="2.60" rx="0.59" fill-opacity="0.60"/><rect x="178.55" y="240.60" width="8.50" height="2.60" rx="0.59" fill-opacity="0.50"/><rect x="178.55" y="244.90" width="8.50" height="2.80" rx="0.63" fill-opacity="0.70"/><rect x="178.55" y="248.30" width="8.50" height="2.40" rx="0.54" fill-opacity="0.25"/><rect x="187.85" y="235.00" width="8.50" height="16.00" rx="1.91" fill-opacity="0.20"/><rect x="187.85" y="236.10" width="8.50" height="2.80" rx="0.63" fill-opacity="0.80"/><rect x="187.85" y="239.80" width="8.50" height="3.00" rx="0.68" fill-opacity="0.92"/><rect x="187.85" y="243.80" width="8.50" height="2.40" rx="0.54" fill-opacity="0.40"/><rect x="187.85" y="247.80" width="8.50" height="2.40" rx="0.54" fill-opacity="0.22"/><rect x="197.55" y="235.00" width="8.50" height="16.00" rx="1.91" fill-opacity="0.14"/><rect x="197.55" y="236.20" width="8.50" height="2.60" rx="0.59" fill-opacity="0.60"/><rect x="197.55" y="240.00" width="8.50" height="2.60" rx="0.59" fill-opacity="0.45"/><rect x="197.55" y="245.10" width="8.50" height="2.40" rx="0.54" fill-opacity="0.35"/><rect x="197.55" y="248.40" width="8.50" height="2.20" rx="0.50" fill-opacity="0.15"/></g></g>
<clipPath id="c270"><rect x="147.00" y="261.80" width="27.40" height="15.80"/></clipPath>
<rect x="147.00" y="261.80" width="27.40" height="15.80" fill="#f3f3f3"/>
<g clip-path="url(#c270)"><g filter="url(#k1)"><rect x="146.70" y="266.80" width="8.00" height="2.40" rx="0.54" fill-opacity="0.88"/><rect x="156.60" y="266.50" width="8.00" height="2.00" rx="0.45" fill-opacity="0.60"/><rect x="165.90" y="266.50" width="8.00" height="2.00" rx="0.45" fill-opacity="0.50"/></g></g>
<clipPath id="c273"><rect x="176.90" y="261.80" width="31.10" height="15.80"/></clipPath>
<rect x="176.90" y="261.80" width="31.10" height="15.80" fill="#d6d6d6"/>
<g clip-path="url(#c273)"><g filter="url(#k1)"><rect x="178.55" y="264.50" width="8.50" height="2.60" rx="0.59" fill-opacity="0.55"/><rect x="178.55" y="268.50" width="8.50" height="2.00" rx="0.45" fill-opacity="0.20"/><rect x="187.85" y="264.70" width="8.50" height="2.20" rx="0.50" fill-opacity="0.45"/><rect x="197.55" y="264.70" width="8.50" height="2.20" rx="0.50" fill-opacity="0.40"/></g></g>
<clipPath id="c276"><rect x="147.00" y="280.60" width="27.40" height="9.60"/></clipPath>
<rect x="147.00" y="280.60" width="27.40" height="9.60" fill="#e8e8e8"/>
<g clip-path="url(#c276)"><g filter="url(#k1)"><rect x="146.70" y="283.90" width="8.00" height="2.20" rx="0.50" fill-opacity="0.72"/><rect x="156.60" y="284.10" width="8.00" height="2.20" rx="0.50" fill-opacity="0.68"/><rect x="165.90" y="283.70" width="8.00" height="2.20" rx="0.50" fill-opacity="0.72"/></g></g>
<clipPath id="c279"><rect x="176.90" y="280.60" width="31.10" height="9.60"/></clipPath>
<rect x="176.90" y="280.60" width="31.10" height="9.60" fill="#e2e2e2"/>
<g clip-path="url(#c279)"><g filter="url(#k1)"><rect x="178.55" y="284.70" width="8.50" height="3.60" rx="0.81" fill-opacity="1.00"/><rect x="187.85" y="284.70" width="8.50" height="3.60" rx="0.81" fill-opacity="1.00"/><rect x="197.55" y="284.70" width="8.50" height="3.60" rx="0.81" fill-opacity="1.00"/></g></g>
<path d="M210.10 237.50 L215.10 234.75 L215.10 240.25Z" fill="#7d7d7d"/>
<path d="M210.10 243.00 L215.10 240.25 L215.10 245.75Z" fill="#7d7d7d"/>
<path d="M210.10 248.50 L215.10 245.75 L215.10 251.25Z" fill="#7d7d7d"/>
<path d="M210.10 266.20 L215.10 263.55 L215.10 268.85Z" fill="#7d7d7d"/>
<text transform="translate(231.39 175.50) scale(0.941 1)" font-size="12.79" font-weight="bold" fill="#000" stroke-width="0">F</text>
<text x="295.50" y="181.90" font-size="6.6" text-anchor="middle" fill="#222" style="color:#222" stroke-width="0.2" textLength="18.70" lengthAdjust="spacingAndGlyphs">HBL-1</text>
<line x1="261.80" y1="186.60" x2="329.30" y2="186.60" stroke="#333" stroke-width="1.0"/>
<text x="266.50" y="226.20" font-size="6.5" fill="#222" style="color:#222" stroke-width="0.2" transform="rotate(-45 266.50 226.20)">Solvent</text>
<text x="281.30" y="226.20" font-size="6.5" fill="#222" style="color:#222" stroke-width="0.2" transform="rotate(-45 281.30 226.20)">CsA</text>
<text x="295.70" y="226.20" font-size="6.5" fill="#222" style="color:#222" stroke-width="0.2" transform="rotate(-45 295.70 226.20)">FCS free</text>
<text x="310.10" y="226.20" font-size="6.5" fill="#222" style="color:#222" stroke-width="0.2" transform="rotate(-45 310.10 226.20)">Ca<tspan font-size="4" dy="-2.2">2+</tspan><tspan dy="2.2"> free</tspan></text>
<text x="324.60" y="226.20" font-size="6.5" fill="#222" style="color:#222" stroke-width="0.2" transform="rotate(-45 324.60 226.20)">Ca<tspan font-size="4" dy="-2.2">2+</tspan><tspan dy="2.2">/FCS free</tspan></text>
<text x="231.50" y="247.60" font-size="7.1" fill="#1e1e1e" style="color:#1e1e1e" stroke-width="0.2" textLength="23.00" lengthAdjust="spacingAndGlyphs">NFATc1</text>
<text x="231.50" y="270.80" font-size="7.1" fill="#1e1e1e" style="color:#1e1e1e" stroke-width="0.2" textLength="23.00" lengthAdjust="spacingAndGlyphs">NFATc2</text>
<text x="232.00" y="287.60" font-size="7.1" fill="#1e1e1e" style="color:#1e1e1e" stroke-width="0.2" textLength="22.80" lengthAdjust="spacingAndGlyphs">Tubulin</text>
<clipPath id="c297"><rect x="258.90" y="231.90" width="73.90" height="26.10"/></clipPath>
<rect x="258.90" y="231.90" width="73.90" height="26.10" fill="#e4e4e4"/>
<g clip-path="url(#c297)"><g filter="url(#k2)"><rect x="261.00" y="241.50" width="13.00" height="12.00" rx="2.70" fill-opacity="0.25"/><rect x="261.00" y="240.00" width="13.00" height="3.00" rx="0.68" fill-opacity="0.12"/><rect x="261.00" y="244.00" width="13.00" height="2.80" rx="0.63" fill-opacity="0.45"/><rect x="261.00" y="248.00" width="13.00" height="4.00" rx="0.90" fill-opacity="0.55"/><rect x="275.80" y="240.00" width="13.00" height="3.00" rx="0.68" fill-opacity="0.55"/><rect x="275.80" y="244.80" width="13.00" height="2.80" rx="0.63" fill-opacity="0.95"/><rect x="275.80" y="241.00" width="13.00" height="10.00" rx="2.25" fill-opacity="0.15"/><rect x="275.80" y="250.00" width="13.00" height="4.00" rx="0.90" fill-opacity="0.10"/><rect x="290.20" y="244.50" width="13.00" height="2.60" rx="0.59" fill-opacity="0.60"/><rect x="290.20" y="248.80" width="13.00" height="4.00" rx="0.90" fill-opacity="0.50"/><rect x="290.20" y="243.00" width="13.00" height="10.00" rx="2.25" fill-opacity="0.12"/><rect x="304.60" y="244.50" width="13.00" height="2.60" rx="0.59" fill-opacity="0.62"/><rect x="304.60" y="248.80" width="13.00" height="4.00" rx="0.90" fill-opacity="0.58"/><rect x="304.60" y="243.00" width="13.00" height="10.00" rx="2.25" fill-opacity="0.15"/><rect x="319.10" y="240.00" width="13.00" height="3.00" rx="0.68" fill-opacity="0.55"/><rect x="319.10" y="245.50" width="13.00" height="2.80" rx="0.63" fill-opacity="0.95"/><rect x="319.10" y="241.00" width="13.00" height="10.00" rx="2.25" fill-opacity="0.15"/><rect x="319.10" y="250.00" width="13.00" height="4.00" rx="0.90" fill-opacity="0.10"/></g></g>
<clipPath id="c300"><rect x="258.90" y="261.20" width="73.90" height="14.00"/></clipPath>
<rect x="258.90" y="261.20" width="73.90" height="14.00" fill="#e0e0e0"/>
<g clip-path="url(#c300)"><g filter="url(#k1)"><rect x="261.00" y="263.00" width="13.00" height="7.00" rx="1.57" fill-opacity="0.22"/><rect x="261.00" y="264.00" width="13.00" height="2.40" rx="0.54" fill-opacity="0.30"/><rect x="261.00" y="268.40" width="13.00" height="2.60" rx="0.59" fill-opacity="0.78"/><rect x="275.80" y="262.50" width="13.00" height="2.20" rx="0.50" fill-opacity="0.95"/><rect x="290.20" y="263.00" width="13.00" height="7.00" rx="1.57" fill-opacity="0.22"/><rect x="290.20" y="264.00" width="13.00" height="2.40" rx="0.54" fill-opacity="0.30"/><rect x="290.20" y="268.40" width="13.00" height="2.60" rx="0.59" fill-opacity="0.90"/><rect x="304.60" y="263.00" width="13.00" height="7.00" rx="1.57" fill-opacity="0.22"/><rect x="304.60" y="264.00" width="13.00" height="2.40" rx="0.54" fill-opacity="0.30"/><rect x="304.60" y="268.40" width="13.00" height="2.60" rx="0.59" fill-opacity="0.90"/><rect x="319.10" y="262.50" width="13.00" height="2.20" rx="0.50" fill-opacity="0.92"/><rect x="319.10" y="267.80" width="13.00" height="2.40" rx="0.54" fill-opacity="0.30"/></g></g>
<clipPath id="c303"><rect x="258.90" y="277.90" width="73.90" height="12.30"/></clipPath>
<rect x="258.90" y="277.90" width="73.90" height="12.30" fill="#e4e4e4"/>
<g clip-path="url(#c303)"><g filter="url(#k1)"><rect x="260.61" y="281.30" width="13.78" height="4.20" rx="0.95" fill-opacity="1.00"/><rect x="275.41" y="281.30" width="13.78" height="4.20" rx="0.95" fill-opacity="1.00"/><rect x="289.81" y="281.30" width="13.78" height="4.20" rx="0.95" fill-opacity="1.00"/><rect x="304.21" y="281.30" width="13.78" height="4.20" rx="0.95" fill-opacity="1.00"/><rect x="318.71" y="281.00" width="13.78" height="4.80" rx="1.08" fill-opacity="1.00"/></g></g>
<path d="M340.70 238.50 L345.30 236.10 L345.30 240.90Z" fill="#7d7d7d"/>
<path d="M340.70 243.30 L345.30 240.90 L345.30 245.70Z" fill="#7d7d7d"/>
<path d="M340.70 248.00 L345.30 245.60 L345.30 250.40Z" fill="#7d7d7d"/>
<path d="M334.90 245.90 L339.40 243.65 L339.40 248.15Z" fill="#111"/>
<path d="M334.90 250.30 L339.40 248.05 L339.40 252.55Z" fill="#111"/>
<path d="M334.90 254.80 L339.40 252.55 L339.40 257.05Z" fill="#111"/>
<path d="M340.70 264.90 L345.30 262.60 L345.30 267.20Z" fill="#7d7d7d"/>
<path d="M334.90 270.00 L339.40 267.70 L339.40 272.30Z" fill="#111"/>
<text transform="translate(7.69 317.67) scale(0.990 1)" font-size="12.57" font-weight="bold" fill="#000" stroke-width="0">G</text>
<text x="53.40" y="324.00" font-size="6.6" text-anchor="middle" fill="#222" style="color:#222" stroke-width="0.2" textLength="25.00" lengthAdjust="spacingAndGlyphs">OCI-Ly3</text>
<line x1="34.60" y1="329.00" x2="72.40" y2="329.00" stroke="#4d4d4d" stroke-width="1.3"/>
<text x="43.20" y="338.10" font-size="6.6" text-anchor="middle" fill="#222" style="color:#222" stroke-width="0.2">C</text>
<text x="63.80" y="338.10" font-size="6.6" text-anchor="middle" fill="#222" style="color:#222" stroke-width="0.2">N</text>
<line x1="34.60" y1="343.10" x2="51.90" y2="343.10" stroke="#4d4d4d" stroke-width="1.3"/>
<line x1="55.20" y1="343.10" x2="72.40" y2="343.10" stroke="#4d4d4d" stroke-width="1.3"/>
<line x1="36.70" y1="350.40" x2="38.70" y2="350.40" stroke="#333" stroke-width="0.7"/>
<text x="49.20" y="352.65" font-size="6.6" text-anchor="middle" fill="#222" style="color:#222" stroke-width="0.2">+</text>
<line x1="58.20" y1="350.40" x2="60.20" y2="350.40" stroke="#333" stroke-width="0.7"/>
<text x="68.70" y="352.65" font-size="6.6" text-anchor="middle" fill="#222" style="color:#222" stroke-width="0.2">+</text>
<text x="95.90" y="324.00" font-size="6.6" text-anchor="middle" fill="#222" style="color:#222" stroke-width="0.2" textLength="20.20" lengthAdjust="spacingAndGlyphs">U2932</text>
<line x1="77.10" y1="329.00" x2="114.90" y2="329.00" stroke="#4d4d4d" stroke-width="1.3"/>
<text x="85.70" y="338.10" font-size="6.6" text-anchor="middle" fill="#222" style="color:#222" stroke-width="0.2">C</text>
<text x="106.30" y="338.10" font-size="6.6" text-anchor="middle" fill="#222" style="color:#222" stroke-width="0.2">N</text>
<line x1="77.10" y1="343.10" x2="94.40" y2="343.10" stroke="#4d4d4d" stroke-width="1.3"/>
<line x1="97.70" y1="343.10" x2="114.90" y2="343.10" stroke="#4d4d4d" stroke-width="1.3"/>
<line x1="79.20" y1="350.40" x2="81.20" y2="350.40" stroke="#333" stroke-width="0.7"/>
<text x="91.70" y="352.65" font-size="6.6" text-anchor="middle" fill="#222" style="color:#222" stroke-width="0.2">+</text>
<line x1="100.70" y1="350.40" x2="102.70" y2="350.40" stroke="#333" stroke-width="0.7"/>
<text x="111.20" y="352.65" font-size="6.6" text-anchor="middle" fill="#222" style="color:#222" stroke-width="0.2">+</text>
<text x="139.40" y="324.00" font-size="6.6" text-anchor="middle" fill="#222" style="color:#222" stroke-width="0.2" textLength="18.50" lengthAdjust="spacingAndGlyphs">HBL-1</text>
<line x1="120.60" y1="329.00" x2="158.40" y2="329.00" stroke="#4d4d4d" stroke-width="1.3"/>
<text x="129.20" y="338.10" font-size="6.6" text-anchor="middle" fill="#222" style="color:#222" stroke-width="0.2">C</text>
<text x="149.80" y="338.10" font-size="6.6" text-anchor="middle" fill="#222" style="color:#222" stroke-width="0.2">N</text>
<line x1="120.60" y1="343.10" x2="137.90" y2="343.10" stroke="#4d4d4d" stroke-width="1.3"/>
<line x1="141.20" y1="343.10" x2="158.40" y2="343.10" stroke="#4d4d4d" stroke-width="1.3"/>
<line x1="122.70" y1="350.40" x2="124.70" y2="350.40" stroke="#333" stroke-width="0.7"/>
<text x="135.20" y="352.65" font-size="6.6" text-anchor="middle" fill="#222" style="color:#222" stroke-width="0.2">+</text>
<line x1="144.20" y1="350.40" x2="146.20" y2="350.40" stroke="#333" stroke-width="0.7"/>
<text x="154.70" y="352.65" font-size="6.6" text-anchor="middle" fill="#222" style="color:#222" stroke-width="0.2">+</text>
<text x="182.60" y="324.00" font-size="6.6" text-anchor="middle" fill="#222" style="color:#222" stroke-width="0.2" textLength="19.20" lengthAdjust="spacingAndGlyphs">TMD8</text>
<line x1="163.80" y1="329.00" x2="201.60" y2="329.00" stroke="#4d4d4d" stroke-width="1.3"/>
<text x="172.40" y="338.10" font-size="6.6" text-anchor="middle" fill="#222" style="color:#222" stroke-width="0.2">C</text>
<text x="193.00" y="338.10" font-size="6.6" text-anchor="middle" fill="#222" style="color:#222" stroke-width="0.2">N</text>
<line x1="163.80" y1="343.10" x2="181.10" y2="343.10" stroke="#4d4d4d" stroke-width="1.3"/>
<line x1="184.40" y1="343.10" x2="201.60" y2="343.10" stroke="#4d4d4d" stroke-width="1.3"/>
<line x1="165.90" y1="350.40" x2="167.90" y2="350.40" stroke="#333" stroke-width="0.7"/>
<text x="178.40" y="352.65" font-size="6.6" text-anchor="middle" fill="#222" style="color:#222" stroke-width="0.2">+</text>
<line x1="187.40" y1="350.40" x2="189.40" y2="350.40" stroke="#333" stroke-width="0.7"/>
<text x="197.90" y="352.65" font-size="6.6" text-anchor="middle" fill="#222" style="color:#222" stroke-width="0.2">+</text>
<text x="226.50" y="324.00" font-size="6.6" text-anchor="middle" fill="#222" style="color:#222" stroke-width="0.2" textLength="29.30" lengthAdjust="spacingAndGlyphs">OCI-Ly10</text>
<line x1="207.70" y1="329.00" x2="245.50" y2="329.00" stroke="#4d4d4d" stroke-width="1.3"/>
<text x="216.30" y="338.10" font-size="6.6" text-anchor="middle" fill="#222" style="color:#222" stroke-width="0.2">C</text>
<text x="236.90" y="338.10" font-size="6.6" text-anchor="middle" fill="#222" style="color:#222" stroke-width="0.2">N</text>
<line x1="207.70" y1="343.10" x2="225.00" y2="343.10" stroke="#4d4d4d" stroke-width="1.3"/>
<line x1="228.30" y1="343.10" x2="245.50" y2="343.10" stroke="#4d4d4d" stroke-width="1.3"/>
<line x1="209.80" y1="350.40" x2="211.80" y2="350.40" stroke="#333" stroke-width="0.7"/>
<text x="222.30" y="352.65" font-size="6.6" text-anchor="middle" fill="#222" style="color:#222" stroke-width="0.2">+</text>
<line x1="231.30" y1="350.40" x2="233.30" y2="350.40" stroke="#333" stroke-width="0.7"/>
<text x="241.80" y="352.65" font-size="6.6" text-anchor="middle" fill="#222" style="color:#222" stroke-width="0.2">+</text>
<text x="7.60" y="352.60" font-size="6.6" fill="#1e1e1e" style="color:#1e1e1e" stroke-width="0.2" textLength="12.60" lengthAdjust="spacingAndGlyphs">CsA</text>
<text x="7.50" y="372.70" font-size="7.1" fill="#1e1e1e" style="color:#1e1e1e" stroke-width="0.2" textLength="23.00" lengthAdjust="spacingAndGlyphs">NFATc1</text>
<text x="7.50" y="395.20" font-size="7.1" fill="#1e1e1e" style="color:#1e1e1e" stroke-width="0.2" textLength="23.00" lengthAdjust="spacingAndGlyphs">NFATc2</text>
<text x="7.50" y="409.20" font-size="7.1" fill="#1e1e1e" style="color:#1e1e1e" stroke-width="0.2" textLength="19.00" lengthAdjust="spacingAndGlyphs">Lamin</text>
<text x="7.50" y="420.20" font-size="7.1" fill="#1e1e1e" style="color:#1e1e1e" stroke-width="0.2" textLength="23.60" lengthAdjust="spacingAndGlyphs">GAPDH</text>
<clipPath id="c370"><rect x="35.20" y="355.90" width="38.10" height="27.70"/></clipPath>
<rect x="35.20" y="355.90" width="38.10" height="27.70" fill="#f4f4f4"/>
<g clip-path="url(#c370)"><g filter="url(#k1)"><rect x="35.91" y="363.80" width="8.10" height="2.60" rx="0.59" fill-opacity="0.42"/><rect x="35.91" y="369.80" width="8.10" height="2.80" rx="0.63" fill-opacity="0.55"/><rect x="35.91" y="375.50" width="8.10" height="2.60" rx="0.59" fill-opacity="0.25"/><rect x="35.91" y="362.00" width="8.10" height="16.00" rx="1.82" fill-opacity="0.14"/><rect x="45.24" y="361.10" width="8.50" height="13.00" rx="1.91" fill-opacity="1.00"/><rect x="45.44" y="376.70" width="8.10" height="2.40" rx="0.54" fill-opacity="0.22"/><rect x="45.44" y="362.00" width="8.10" height="20.00" rx="1.82" fill-opacity="0.10"/><rect x="54.96" y="363.80" width="8.10" height="2.60" rx="0.59" fill-opacity="0.42"/><rect x="54.96" y="367.30" width="8.10" height="2.40" rx="0.54" fill-opacity="0.30"/><rect x="54.96" y="370.30" width="8.10" height="3.00" rx="0.68" fill-opacity="0.90"/><rect x="54.96" y="375.30" width="8.10" height="3.00" rx="0.68" fill-opacity="0.62"/><rect x="54.96" y="364.00" width="8.10" height="16.00" rx="1.82" fill-opacity="0.16"/><rect x="64.49" y="367.75" width="8.10" height="2.50" rx="0.56" fill-opacity="0.10"/><rect x="64.49" y="363.00" width="8.10" height="12.00" rx="1.82" fill-opacity="0.04"/></g></g>
<clipPath id="c373"><rect x="35.20" y="385.00" width="38.10" height="14.80"/></clipPath>
<rect x="35.20" y="385.00" width="38.10" height="14.80" fill="#efefef"/>
<g clip-path="url(#c373)"><g filter="url(#k1)"><rect x="35.91" y="390.60" width="8.10" height="2.80" rx="0.63" fill-opacity="0.95"/><rect x="35.91" y="394.60" width="8.10" height="2.80" rx="0.63" fill-opacity="0.95"/><rect x="35.91" y="390.50" width="8.10" height="7.00" rx="1.57" fill-opacity="0.30"/><rect x="45.44" y="390.70" width="8.10" height="2.60" rx="0.59" fill-opacity="0.72"/><rect x="45.44" y="394.70" width="8.10" height="2.60" rx="0.59" fill-opacity="0.80"/><rect x="45.44" y="390.50" width="8.10" height="7.00" rx="1.57" fill-opacity="0.20"/><rect x="54.96" y="391.70" width="8.10" height="2.40" rx="0.54" fill-opacity="0.55"/><rect x="54.96" y="394.80" width="8.10" height="2.80" rx="0.63" fill-opacity="0.85"/><rect x="64.49" y="391.80" width="8.10" height="2.40" rx="0.54" fill-opacity="0.08"/></g></g>
<clipPath id="c376"><rect x="35.20" y="400.90" width="38.10" height="10.00"/></clipPath>
<rect x="35.20" y="400.90" width="38.10" height="10.00" fill="#dedede"/>
<g clip-path="url(#c376)"><g filter="url(#k1)"><rect x="54.76" y="403.30" width="8.50" height="1.80" rx="0.41" fill-opacity="0.88"/><rect x="54.76" y="406.50" width="8.50" height="1.80" rx="0.41" fill-opacity="0.79"/><rect x="64.29" y="403.30" width="8.50" height="1.80" rx="0.41" fill-opacity="0.88"/><rect x="64.29" y="406.50" width="8.50" height="1.80" rx="0.41" fill-opacity="0.79"/></g></g>
<clipPath id="c379"><rect x="35.20" y="412.10" width="38.10" height="12.00"/></clipPath>
<rect x="35.20" y="412.10" width="38.10" height="12.00" fill="#f0f0f0"/>
<g clip-path="url(#c379)"><g filter="url(#k1)"><rect x="35.90" y="417.60" width="10.53" height="2.00" rx="0.45" fill-opacity="0.90"/><rect x="44.63" y="417.00" width="9.72" height="2.80" rx="0.63" fill-opacity="0.97"/></g></g>
<clipPath id="c382"><rect x="77.70" y="355.90" width="38.10" height="27.70"/></clipPath>
<rect x="77.70" y="355.90" width="38.10" height="27.70" fill="#f4f4f4"/>
<g clip-path="url(#c382)"><g filter="url(#k1)"><rect x="87.94" y="361.50" width="8.10" height="2.80" rx="0.63" fill-opacity="0.88"/><rect x="87.94" y="366.50" width="8.10" height="2.80" rx="0.63" fill-opacity="0.90"/><rect x="87.94" y="370.60" width="8.10" height="2.80" rx="0.63" fill-opacity="0.72"/><rect x="87.94" y="361.00" width="8.10" height="14.00" rx="1.82" fill-opacity="0.15"/><rect x="97.46" y="365.10" width="8.10" height="2.60" rx="0.59" fill-opacity="0.50"/><rect x="97.46" y="370.70" width="8.10" height="3.20" rx="0.72" fill-opacity="0.95"/><rect x="97.46" y="375.70" width="8.10" height="3.20" rx="0.72" fill-opacity="0.95"/><rect x="97.46" y="365.00" width="8.10" height="16.00" rx="1.82" fill-opacity="0.18"/><rect x="106.99" y="367.75" width="8.10" height="2.50" rx="0.56" fill-opacity="0.10"/></g></g>
<clipPath id="c385"><rect x="77.70" y="385.00" width="38.10" height="14.80"/></clipPath>
<rect x="77.70" y="385.00" width="38.10" height="14.80" fill="#e8e8e8"/>
<g clip-path="url(#c385)"><g filter="url(#k1)"><rect x="78.41" y="389.90" width="8.10" height="2.60" rx="0.59" fill-opacity="0.92"/><rect x="78.41" y="392.70" width="8.10" height="2.60" rx="0.59" fill-opacity="0.85"/><rect x="87.94" y="388.30" width="8.10" height="2.00" rx="0.45" fill-opacity="0.85"/><rect x="87.94" y="390.00" width="8.10" height="6.00" rx="1.35" fill-opacity="0.18"/><rect x="97.46" y="389.80" width="8.10" height="2.40" rx="0.54" fill-opacity="0.40"/><rect x="97.46" y="392.60" width="8.10" height="3.20" rx="0.72" fill-opacity="0.97"/></g></g>
<clipPath id="c388"><rect x="77.70" y="400.90" width="38.10" height="10.00"/></clipPath>
<rect x="77.70" y="400.90" width="38.10" height="10.00" fill="#e0e0e0"/>
<g clip-path="url(#c388)"><g filter="url(#k1)"><rect x="97.26" y="403.30" width="8.50" height="1.80" rx="0.41" fill-opacity="0.90"/><rect x="97.26" y="406.50" width="8.50" height="1.80" rx="0.41" fill-opacity="0.81"/><rect x="106.79" y="403.30" width="8.50" height="1.80" rx="0.41" fill-opacity="0.90"/><rect x="106.79" y="406.50" width="8.50" height="1.80" rx="0.41" fill-opacity="0.81"/></g></g>
<clipPath id="c391"><rect x="77.70" y="412.10" width="38.10" height="12.00"/></clipPath>
<rect x="77.70" y="412.10" width="38.10" height="12.00" fill="#f0f0f0"/>
<g clip-path="url(#c391)"><g filter="url(#k1)"><rect x="79.60" y="418.20" width="9.72" height="1.60" rx="0.36" fill-opacity="0.60"/><rect x="87.13" y="417.00" width="9.72" height="2.80" rx="0.63" fill-opacity="0.97"/></g></g>
<clipPath id="c394"><rect x="120.80" y="355.90" width="38.10" height="27.70"/></clipPath>
<rect x="120.80" y="355.90" width="38.10" height="27.70" fill="#f2f2f2"/>
<g clip-path="url(#c394)"><g filter="url(#k1)"><rect x="121.51" y="364.80" width="8.10" height="2.40" rx="0.54" fill-opacity="0.22"/><rect x="121.51" y="369.80" width="8.10" height="2.80" rx="0.63" fill-opacity="0.42"/><rect x="121.51" y="374.90" width="8.10" height="2.60" rx="0.59" fill-opacity="0.25"/><rect x="121.51" y="363.00" width="8.10" height="16.00" rx="1.82" fill-opacity="0.12"/><rect x="131.04" y="361.20" width="8.10" height="2.60" rx="0.59" fill-opacity="0.95"/><rect x="130.84" y="364.00" width="8.50" height="9.00" rx="1.91" fill-opacity="1.00"/><rect x="131.04" y="373.50" width="8.10" height="5.00" rx="1.12" fill-opacity="0.15"/><rect x="140.56" y="365.40" width="8.10" height="2.80" rx="0.63" fill-opacity="0.60"/><rect x="140.56" y="369.10" width="8.10" height="5.00" rx="1.12" fill-opacity="0.92"/><rect x="140.56" y="375.30" width="8.10" height="3.00" rx="0.68" fill-opacity="0.60"/><rect x="140.56" y="365.00" width="8.10" height="14.00" rx="1.82" fill-opacity="0.22"/><rect x="150.09" y="367.20" width="8.10" height="2.40" rx="0.54" fill-opacity="0.40"/><rect x="150.09" y="370.70" width="8.10" height="2.20" rx="0.50" fill-opacity="0.20"/></g></g>
<clipPath id="c397"><rect x="120.80" y="385.00" width="38.10" height="14.80"/></clipPath>
<rect x="120.80" y="385.00" width="38.10" height="14.80" fill="#ececec"/>
<g clip-path="url(#c397)"><g filter="url(#k1)"><rect x="121.51" y="390.60" width="8.10" height="2.40" rx="0.54" fill-opacity="0.45"/><rect x="121.51" y="393.90" width="8.10" height="2.80" rx="0.63" fill-opacity="0.85"/><rect x="131.04" y="389.20" width="8.10" height="2.40" rx="0.54" fill-opacity="0.62"/><rect x="131.04" y="393.90" width="8.10" height="2.40" rx="0.54" fill-opacity="0.30"/><rect x="140.56" y="390.40" width="8.10" height="2.20" rx="0.50" fill-opacity="0.35"/><rect x="140.56" y="394.20" width="8.10" height="3.00" rx="0.68" fill-opacity="0.95"/><rect x="150.09" y="390.00" width="8.10" height="2.00" rx="0.45" fill-opacity="0.12"/></g></g>
<clipPath id="c400"><rect x="120.80" y="400.90" width="38.10" height="10.00"/></clipPath>
<rect x="120.80" y="400.90" width="38.10" height="10.00" fill="#e4e4e4"/>
<g clip-path="url(#c400)"><g filter="url(#k1)"><rect x="140.36" y="403.20" width="8.50" height="2.80" rx="0.63" fill-opacity="1.00"/><rect x="140.36" y="406.70" width="8.50" height="2.60" rx="0.59" fill-opacity="0.97"/><rect x="149.89" y="403.20" width="8.50" height="2.80" rx="0.63" fill-opacity="1.00"/><rect x="149.89" y="406.70" width="8.50" height="2.60" rx="0.59" fill-opacity="0.97"/></g></g>
<clipPath id="c403"><rect x="120.80" y="412.10" width="38.10" height="12.00"/></clipPath>
<rect x="120.80" y="412.10" width="38.10" height="12.00" fill="#f0f0f0"/>
<g clip-path="url(#c403)"><g filter="url(#k1)"><rect x="120.50" y="417.70" width="10.12" height="3.60" rx="0.81" fill-opacity="0.98"/><rect x="130.03" y="417.70" width="10.12" height="3.60" rx="0.81" fill-opacity="0.98"/><rect x="140.56" y="418.80" width="8.10" height="1.60" rx="0.36" fill-opacity="0.40"/><rect x="150.09" y="419.10" width="8.10" height="1.40" rx="0.32" fill-opacity="0.22"/></g></g>
<clipPath id="c406"><rect x="165.40" y="355.90" width="38.10" height="27.70"/></clipPath>
<rect x="165.40" y="355.90" width="38.10" height="27.70" fill="#e6e6e6"/>
<g clip-path="url(#c406)"><g filter="url(#k1)"><rect x="166.11" y="364.50" width="8.10" height="2.40" rx="0.54" fill-opacity="0.25"/><rect x="166.11" y="369.30" width="8.10" height="2.80" rx="0.63" fill-opacity="0.60"/><rect x="166.11" y="373.40" width="8.10" height="2.40" rx="0.54" fill-opacity="0.35"/><rect x="166.11" y="362.00" width="8.10" height="16.00" rx="1.82" fill-opacity="0.15"/><rect x="175.44" y="361.25" width="8.50" height="11.50" rx="1.91" fill-opacity="1.00"/><rect x="175.64" y="373.00" width="8.10" height="6.00" rx="1.35" fill-opacity="0.20"/><rect x="185.16" y="365.10" width="8.10" height="2.60" rx="0.59" fill-opacity="0.45"/><rect x="185.16" y="369.60" width="8.10" height="3.20" rx="0.72" fill-opacity="0.95"/><rect x="185.16" y="373.00" width="8.10" height="6.00" rx="1.35" fill-opacity="0.25"/><rect x="194.69" y="365.00" width="8.10" height="10.00" rx="1.82" fill-opacity="0.05"/></g></g>
<clipPath id="c409"><rect x="165.40" y="385.00" width="38.10" height="14.80"/></clipPath>
<rect x="165.40" y="385.00" width="38.10" height="14.80" fill="#ececec"/>
<g clip-path="url(#c409)"><g filter="url(#k1)"><rect x="166.11" y="393.60" width="8.10" height="2.60" rx="0.59" fill-opacity="0.70"/><rect x="166.11" y="389.00" width="8.10" height="6.00" rx="1.35" fill-opacity="0.10"/><rect x="175.64" y="388.90" width="8.10" height="2.40" rx="0.54" fill-opacity="0.55"/><rect x="175.64" y="392.50" width="8.10" height="3.00" rx="0.68" fill-opacity="0.25"/><rect x="184.96" y="391.75" width="8.50" height="5.50" rx="1.24" fill-opacity="1.00"/><rect x="194.69" y="390.60" width="8.10" height="2.00" rx="0.45" fill-opacity="0.18"/></g></g>
<clipPath id="c412"><rect x="165.40" y="400.90" width="38.10" height="10.00"/></clipPath>
<rect x="165.40" y="400.90" width="38.10" height="10.00" fill="#e4e4e4"/>
<g clip-path="url(#c412)"><g filter="url(#k1)"><rect x="184.96" y="403.30" width="8.50" height="1.80" rx="0.41" fill-opacity="0.85"/><rect x="184.96" y="406.50" width="8.50" height="1.80" rx="0.41" fill-opacity="0.77"/><rect x="194.49" y="403.30" width="8.50" height="1.80" rx="0.41" fill-opacity="0.85"/><rect x="194.49" y="406.50" width="8.50" height="1.80" rx="0.41" fill-opacity="0.77"/></g></g>
<clipPath id="c415"><rect x="165.40" y="412.10" width="38.10" height="12.00"/></clipPath>
<rect x="165.40" y="412.10" width="38.10" height="12.00" fill="#f2f2f2"/>
<g clip-path="url(#c415)"><g filter="url(#k1)"><rect x="165.10" y="417.30" width="10.12" height="3.00" rx="0.68" fill-opacity="0.95"/><rect x="174.83" y="416.90" width="9.72" height="3.60" rx="0.81" fill-opacity="0.98"/></g></g>
<clipPath id="c418"><rect x="208.50" y="355.90" width="38.10" height="27.70"/></clipPath>
<rect x="208.50" y="355.90" width="38.10" height="27.70" fill="#eeeeee"/>
<g clip-path="url(#c418)"><g filter="url(#k1)"><rect x="209.21" y="367.90" width="8.10" height="2.20" rx="0.50" fill-opacity="0.30"/><rect x="209.21" y="370.70" width="8.10" height="2.20" rx="0.50" fill-opacity="0.30"/><rect x="209.21" y="373.90" width="8.10" height="2.40" rx="0.54" fill-opacity="0.42"/><rect x="209.21" y="377.10" width="8.10" height="2.20" rx="0.50" fill-opacity="0.25"/><rect x="209.21" y="364.00" width="8.10" height="16.00" rx="1.82" fill-opacity="0.12"/><rect x="218.74" y="365.00" width="8.10" height="7.00" rx="1.57" fill-opacity="0.75"/><rect x="218.74" y="366.00" width="8.10" height="12.00" rx="1.82" fill-opacity="0.15"/><rect x="228.26" y="368.70" width="8.10" height="2.80" rx="0.63" fill-opacity="0.85"/><rect x="228.26" y="373.00" width="8.10" height="3.20" rx="0.72" fill-opacity="0.97"/><rect x="228.26" y="377.70" width="8.10" height="2.60" rx="0.59" fill-opacity="0.50"/><rect x="228.26" y="367.00" width="8.10" height="14.00" rx="1.82" fill-opacity="0.15"/><rect x="237.79" y="368.80" width="8.10" height="2.40" rx="0.54" fill-opacity="0.12"/></g></g>
<clipPath id="c421"><rect x="208.50" y="385.00" width="38.10" height="14.80"/></clipPath>
<rect x="208.50" y="385.00" width="38.10" height="14.80" fill="#e6e6e6"/>
<g clip-path="url(#c421)"><g filter="url(#k1)"><rect x="209.21" y="386.30" width="8.10" height="2.00" rx="0.45" fill-opacity="0.20"/><rect x="209.21" y="390.90" width="8.10" height="2.80" rx="0.63" fill-opacity="0.68"/><rect x="209.21" y="396.60" width="8.10" height="2.60" rx="0.59" fill-opacity="0.45"/><rect x="209.21" y="386.00" width="8.10" height="12.00" rx="1.82" fill-opacity="0.20"/><rect x="218.74" y="386.30" width="8.10" height="2.00" rx="0.45" fill-opacity="0.20"/><rect x="218.74" y="391.00" width="8.10" height="2.60" rx="0.59" fill-opacity="0.55"/><rect x="218.74" y="394.20" width="8.10" height="2.60" rx="0.59" fill-opacity="0.50"/><rect x="218.74" y="386.00" width="8.10" height="12.00" rx="1.82" fill-opacity="0.18"/><rect x="228.26" y="386.50" width="8.10" height="2.00" rx="0.45" fill-opacity="0.20"/><rect x="228.26" y="390.90" width="8.10" height="2.80" rx="0.63" fill-opacity="0.82"/><rect x="228.26" y="394.40" width="8.10" height="2.60" rx="0.59" fill-opacity="0.55"/><rect x="237.79" y="390.75" width="8.10" height="2.50" rx="0.56" fill-opacity="0.05"/></g></g>
<clipPath id="c424"><rect x="208.50" y="400.90" width="38.10" height="10.00"/></clipPath>
<rect x="208.50" y="400.90" width="38.10" height="10.00" fill="#e6e6e6"/>
<g clip-path="url(#c424)"><g filter="url(#k1)"><rect x="228.06" y="403.30" width="8.50" height="1.80" rx="0.41" fill-opacity="0.90"/><rect x="228.06" y="406.50" width="8.50" height="1.80" rx="0.41" fill-opacity="0.81"/><rect x="237.59" y="403.30" width="8.50" height="1.80" rx="0.41" fill-opacity="0.90"/><rect x="237.59" y="406.50" width="8.50" height="1.80" rx="0.41" fill-opacity="0.81"/></g></g>
<clipPath id="c427"><rect x="208.50" y="412.10" width="38.10" height="12.00"/></clipPath>
<rect x="208.50" y="412.10" width="38.10" height="12.00" fill="#f0f0f0"/>
<g clip-path="url(#c427)"><g filter="url(#k1)"><rect x="208.20" y="417.40" width="10.12" height="3.00" rx="0.68" fill-opacity="0.97"/><rect x="217.93" y="417.10" width="9.72" height="3.40" rx="0.77" fill-opacity="0.98"/></g></g>
<text transform="translate(263.29 317.60) scale(1.076 1)" font-size="12.65" font-weight="bold" fill="#000" stroke-width="0">H</text>
<text x="310.40" y="324.00" font-size="6.6" text-anchor="middle" fill="#222" style="color:#222" stroke-width="0.2" textLength="17.40" lengthAdjust="spacingAndGlyphs">BJAB</text>
<line x1="291.40" y1="329.00" x2="329.40" y2="329.00" stroke="#4d4d4d" stroke-width="1.3"/>
<text x="300.50" y="338.10" font-size="6.6" text-anchor="middle" fill="#222" style="color:#222" stroke-width="0.2">C</text>
<text x="320.50" y="338.10" font-size="6.6" text-anchor="middle" fill="#222" style="color:#222" stroke-width="0.2">N</text>
<line x1="291.40" y1="343.10" x2="308.70" y2="343.10" stroke="#4d4d4d" stroke-width="1.3"/>
<line x1="312.40" y1="343.10" x2="329.40" y2="343.10" stroke="#4d4d4d" stroke-width="1.3"/>
<line x1="295.00" y1="350.40" x2="297.00" y2="350.40" stroke="#333" stroke-width="0.7"/>
<text x="303.10" y="352.65" font-size="6.6" text-anchor="middle" fill="#222" style="color:#222" stroke-width="0.2">+</text>
<line x1="315.40" y1="350.40" x2="317.40" y2="350.40" stroke="#333" stroke-width="0.7"/>
<text x="323.70" y="352.65" font-size="6.6" text-anchor="middle" fill="#222" style="color:#222" stroke-width="0.2">+</text>
<text x="354.20" y="324.00" font-size="6.6" text-anchor="middle" fill="#222" style="color:#222" stroke-width="0.2" textLength="9.10" lengthAdjust="spacingAndGlyphs">HT</text>
<line x1="335.20" y1="329.00" x2="373.20" y2="329.00" stroke="#4d4d4d" stroke-width="1.3"/>
<text x="344.30" y="338.10" font-size="6.6" text-anchor="middle" fill="#222" style="color:#222" stroke-width="0.2">C</text>
<text x="364.30" y="338.10" font-size="6.6" text-anchor="middle" fill="#222" style="color:#222" stroke-width="0.2">N</text>
<line x1="335.20" y1="343.10" x2="352.50" y2="343.10" stroke="#4d4d4d" stroke-width="1.3"/>
<line x1="356.20" y1="343.10" x2="373.20" y2="343.10" stroke="#4d4d4d" stroke-width="1.3"/>
<line x1="338.80" y1="350.40" x2="340.80" y2="350.40" stroke="#333" stroke-width="0.7"/>
<text x="346.90" y="352.65" font-size="6.6" text-anchor="middle" fill="#222" style="color:#222" stroke-width="0.2">+</text>
<line x1="359.20" y1="350.40" x2="361.20" y2="350.40" stroke="#333" stroke-width="0.7"/>
<text x="367.50" y="352.65" font-size="6.6" text-anchor="middle" fill="#222" style="color:#222" stroke-width="0.2">+</text>
<text x="264.50" y="352.90" font-size="6.6" fill="#1e1e1e" style="color:#1e1e1e" stroke-width="0.2" textLength="12.60" lengthAdjust="spacingAndGlyphs">CsA</text>
<text x="264.50" y="373.30" font-size="7.1" fill="#1e1e1e" style="color:#1e1e1e" stroke-width="0.2" textLength="23.00" lengthAdjust="spacingAndGlyphs">NFATc1</text>
<text x="264.50" y="394.90" font-size="7.1" fill="#1e1e1e" style="color:#1e1e1e" stroke-width="0.2" textLength="23.00" lengthAdjust="spacingAndGlyphs">NFATc2</text>
<text x="264.50" y="408.80" font-size="7.1" fill="#1e1e1e" style="color:#1e1e1e" stroke-width="0.2" textLength="19.00" lengthAdjust="spacingAndGlyphs">Lamin</text>
<text x="264.50" y="420.20" font-size="7.1" fill="#1e1e1e" style="color:#1e1e1e" stroke-width="0.2" textLength="23.40" lengthAdjust="spacingAndGlyphs">GAPDH</text>
<clipPath id="c456"><rect x="292.00" y="355.90" width="38.10" height="27.70"/></clipPath>
<rect x="292.00" y="355.90" width="38.10" height="27.70" fill="#ececec"/>
<g clip-path="url(#c456)"><g filter="url(#k1)"><rect x="292.71" y="371.10" width="8.10" height="2.40" rx="0.54" fill-opacity="0.45"/><rect x="292.71" y="374.10" width="8.10" height="2.40" rx="0.54" fill-opacity="0.45"/><rect x="302.24" y="367.60" width="8.10" height="2.80" rx="0.63" fill-opacity="0.97"/><rect x="302.24" y="371.30" width="8.10" height="2.80" rx="0.63" fill-opacity="0.92"/><rect x="311.76" y="372.00" width="8.10" height="2.40" rx="0.54" fill-opacity="0.55"/><rect x="311.76" y="374.70" width="8.10" height="2.40" rx="0.54" fill-opacity="0.75"/><rect x="321.29" y="371.00" width="8.10" height="2.00" rx="0.45" fill-opacity="0.12"/></g></g>
<clipPath id="c459"><rect x="292.00" y="385.00" width="38.10" height="14.80"/></clipPath>
<rect x="292.00" y="385.00" width="38.10" height="14.80" fill="#e0e0e0"/>
<g clip-path="url(#c459)"><g filter="url(#k1)"><rect x="292.71" y="390.80" width="8.10" height="2.40" rx="0.54" fill-opacity="0.85"/><rect x="292.71" y="393.20" width="8.10" height="2.40" rx="0.54" fill-opacity="0.75"/><rect x="302.24" y="390.00" width="8.10" height="3.00" rx="0.68" fill-opacity="0.97"/><rect x="311.76" y="393.60" width="8.10" height="2.40" rx="0.54" fill-opacity="0.50"/><rect x="321.29" y="391.00" width="8.10" height="2.00" rx="0.45" fill-opacity="0.15"/></g></g>
<clipPath id="c462"><rect x="292.00" y="400.90" width="38.10" height="10.00"/></clipPath>
<rect x="292.00" y="400.90" width="38.10" height="10.00" fill="#d0d0d0"/>
<g clip-path="url(#c462)"><g filter="url(#k1)"><rect x="311.56" y="403.00" width="8.50" height="2.00" rx="0.45" fill-opacity="0.95"/><rect x="311.56" y="405.60" width="8.50" height="2.00" rx="0.45" fill-opacity="0.90"/><rect x="321.09" y="403.00" width="8.50" height="2.00" rx="0.45" fill-opacity="0.95"/><rect x="321.09" y="405.60" width="8.50" height="2.00" rx="0.45" fill-opacity="0.90"/></g></g>
<clipPath id="c465"><rect x="292.00" y="412.10" width="38.10" height="12.00"/></clipPath>
<rect x="292.00" y="412.10" width="38.10" height="12.00" fill="#eeeeee"/>
<g clip-path="url(#c465)"><g filter="url(#k1)"><rect x="292.50" y="416.70" width="10.53" height="3.00" rx="0.68" fill-opacity="0.97"/><rect x="301.43" y="416.70" width="9.72" height="3.00" rx="0.68" fill-opacity="0.97"/></g></g>
<clipPath id="c468"><rect x="335.00" y="355.90" width="38.10" height="27.70"/></clipPath>
<rect x="335.00" y="355.90" width="38.10" height="27.70" fill="#f4f4f4"/>
<g clip-path="url(#c468)"><g filter="url(#k1)"><rect x="335.71" y="368.80" width="8.10" height="2.00" rx="0.45" fill-opacity="0.15"/><rect x="335.71" y="371.00" width="8.10" height="2.00" rx="0.45" fill-opacity="0.15"/><rect x="344.83" y="363.95" width="8.91" height="7.50" rx="1.69" fill-opacity="1.00"/><rect x="354.76" y="369.60" width="8.10" height="2.20" rx="0.50" fill-opacity="0.50"/><rect x="354.76" y="372.80" width="8.10" height="2.40" rx="0.54" fill-opacity="0.60"/><rect x="364.29" y="371.00" width="8.10" height="2.00" rx="0.45" fill-opacity="0.10"/></g></g>
<clipPath id="c471"><rect x="335.00" y="385.00" width="38.10" height="14.80"/></clipPath>
<rect x="335.00" y="385.00" width="38.10" height="14.80" fill="#e8e8e8"/>
<g clip-path="url(#c471)"><g filter="url(#k1)"><rect x="335.71" y="388.60" width="8.10" height="2.40" rx="0.54" fill-opacity="0.72"/><rect x="335.71" y="391.80" width="8.10" height="2.40" rx="0.54" fill-opacity="0.60"/><rect x="344.83" y="388.20" width="8.91" height="5.00" rx="1.12" fill-opacity="1.00"/><rect x="354.76" y="389.90" width="8.10" height="2.20" rx="0.50" fill-opacity="0.80"/><rect x="354.76" y="392.30" width="8.10" height="2.20" rx="0.50" fill-opacity="0.85"/><rect x="364.29" y="389.60" width="8.10" height="1.80" rx="0.41" fill-opacity="0.25"/></g></g>
<clipPath id="c474"><rect x="335.00" y="400.90" width="38.10" height="10.00"/></clipPath>
<rect x="335.00" y="400.90" width="38.10" height="10.00" fill="#ececec"/>
<g clip-path="url(#c474)"><g filter="url(#k1)"><rect x="354.56" y="404.80" width="8.50" height="2.40" rx="0.54" fill-opacity="0.90"/><rect x="364.09" y="404.80" width="8.50" height="2.40" rx="0.54" fill-opacity="0.90"/></g></g>
<clipPath id="c477"><rect x="335.00" y="412.10" width="38.10" height="12.00"/></clipPath>
<rect x="335.00" y="412.10" width="38.10" height="12.00" fill="#e4e4e4"/>
<g clip-path="url(#c477)"><g filter="url(#k1)"><rect x="334.50" y="417.60" width="10.53" height="3.80" rx="0.85" fill-opacity="0.98"/><rect x="344.23" y="417.60" width="10.12" height="3.80" rx="0.85" fill-opacity="0.98"/><rect x="354.76" y="419.30" width="8.10" height="1.40" rx="0.32" fill-opacity="0.40"/><rect x="364.29" y="419.10" width="8.10" height="1.80" rx="0.41" fill-opacity="0.55"/></g></g>
<text transform="translate(390.12 317.50) scale(1.081 1)" font-size="12.21" font-weight="bold" fill="#000" stroke-width="0">I</text>
<text x="436.70" y="324.00" font-size="6.6" text-anchor="middle" fill="#222" style="color:#222" stroke-width="0.2" textLength="20.70" lengthAdjust="spacingAndGlyphs">Ramos</text>
<line x1="417.70" y1="329.00" x2="455.70" y2="329.00" stroke="#4d4d4d" stroke-width="1.3"/>
<text x="426.40" y="338.10" font-size="6.6" text-anchor="middle" fill="#222" style="color:#222" stroke-width="0.2">C</text>
<text x="447.50" y="338.10" font-size="6.6" text-anchor="middle" fill="#222" style="color:#222" stroke-width="0.2">N</text>
<line x1="417.70" y1="343.10" x2="435.00" y2="343.10" stroke="#4d4d4d" stroke-width="1.3"/>
<line x1="438.70" y1="343.10" x2="455.70" y2="343.10" stroke="#4d4d4d" stroke-width="1.3"/>
<line x1="421.70" y1="350.40" x2="423.70" y2="350.40" stroke="#333" stroke-width="0.7"/>
<text x="431.30" y="352.65" font-size="6.6" text-anchor="middle" fill="#222" style="color:#222" stroke-width="0.2">+</text>
<line x1="439.30" y1="350.40" x2="441.30" y2="350.40" stroke="#333" stroke-width="0.7"/>
<text x="448.70" y="352.65" font-size="6.6" text-anchor="middle" fill="#222" style="color:#222" stroke-width="0.2">+</text>
<text x="478.00" y="324.00" font-size="6.6" text-anchor="middle" fill="#222" style="color:#222" stroke-width="0.2" textLength="19.50" lengthAdjust="spacingAndGlyphs">Jurkat</text>
<line x1="459.00" y1="329.00" x2="497.00" y2="329.00" stroke="#4d4d4d" stroke-width="1.3"/>
<text x="467.70" y="338.10" font-size="6.6" text-anchor="middle" fill="#222" style="color:#222" stroke-width="0.2">C</text>
<text x="488.80" y="338.10" font-size="6.6" text-anchor="middle" fill="#222" style="color:#222" stroke-width="0.2">N</text>
<line x1="459.00" y1="343.10" x2="476.30" y2="343.10" stroke="#4d4d4d" stroke-width="1.3"/>
<line x1="480.00" y1="343.10" x2="497.00" y2="343.10" stroke="#4d4d4d" stroke-width="1.3"/>
<line x1="463.00" y1="350.40" x2="465.00" y2="350.40" stroke="#333" stroke-width="0.7"/>
<text x="472.60" y="352.65" font-size="6.6" text-anchor="middle" fill="#222" style="color:#222" stroke-width="0.2">+</text>
<line x1="480.60" y1="350.40" x2="482.60" y2="350.40" stroke="#333" stroke-width="0.7"/>
<text x="490.00" y="352.65" font-size="6.6" text-anchor="middle" fill="#222" style="color:#222" stroke-width="0.2">+</text>
<text x="390.20" y="352.90" font-size="6.6" fill="#1e1e1e" style="color:#1e1e1e" stroke-width="0.2" textLength="12.60" lengthAdjust="spacingAndGlyphs">CsA</text>
<text x="390.20" y="373.30" font-size="7.1" fill="#1e1e1e" style="color:#1e1e1e" stroke-width="0.2" textLength="23.00" lengthAdjust="spacingAndGlyphs">NFATc1</text>
<text x="390.20" y="394.90" font-size="7.1" fill="#1e1e1e" style="color:#1e1e1e" stroke-width="0.2" textLength="23.00" lengthAdjust="spacingAndGlyphs">NFATc2</text>
<text x="390.20" y="408.80" font-size="7.1" fill="#1e1e1e" style="color:#1e1e1e" stroke-width="0.2" textLength="19.00" lengthAdjust="spacingAndGlyphs">Lamin</text>
<text x="390.20" y="420.20" font-size="7.1" fill="#1e1e1e" style="color:#1e1e1e" stroke-width="0.2" textLength="23.60" lengthAdjust="spacingAndGlyphs">GAPDH</text>
<clipPath id="c506"><rect x="417.80" y="355.90" width="38.10" height="27.70"/></clipPath>
<rect x="417.80" y="355.90" width="38.10" height="27.70" fill="#e6e6e6"/>
<g clip-path="url(#c506)"><g filter="url(#k1)"><rect x="418.51" y="360.50" width="8.10" height="19.00" rx="1.82" fill-opacity="0.28"/><rect x="418.51" y="367.50" width="8.10" height="6.00" rx="1.35" fill-opacity="0.22"/><rect x="424.55" y="364.00" width="2.02" height="14.00" rx="0.46" fill-opacity="0.35"/><rect x="428.04" y="364.00" width="8.10" height="10.00" rx="1.82" fill-opacity="0.50"/><rect x="428.04" y="360.00" width="8.10" height="18.00" rx="1.82" fill-opacity="0.15"/><rect x="428.00" y="366.00" width="1.78" height="8.00" rx="0.40" fill-opacity="0.40"/><rect x="434.40" y="366.00" width="1.78" height="8.00" rx="0.40" fill-opacity="0.40"/><rect x="437.56" y="370.25" width="8.10" height="7.50" rx="1.69" fill-opacity="0.32"/><rect x="437.56" y="366.00" width="8.10" height="12.00" rx="1.82" fill-opacity="0.08"/><rect x="447.09" y="368.00" width="8.10" height="10.00" rx="1.82" fill-opacity="0.14"/></g></g>
<clipPath id="c509"><rect x="417.80" y="385.00" width="38.10" height="14.80"/></clipPath>
<rect x="417.80" y="385.00" width="38.10" height="14.80" fill="#f0f0f0"/>
<g clip-path="url(#c509)"><g filter="url(#k1)"><rect x="418.51" y="388.40" width="8.10" height="2.80" rx="0.63" fill-opacity="0.97"/><rect x="428.04" y="388.70" width="8.10" height="2.20" rx="0.50" fill-opacity="0.80"/><rect x="437.56" y="390.50" width="8.10" height="2.00" rx="0.45" fill-opacity="0.15"/><rect x="437.56" y="393.80" width="8.10" height="2.00" rx="0.45" fill-opacity="0.15"/><rect x="447.09" y="390.50" width="8.10" height="2.00" rx="0.45" fill-opacity="0.15"/><rect x="447.09" y="393.80" width="8.10" height="2.00" rx="0.45" fill-opacity="0.15"/></g></g>
<clipPath id="c512"><rect x="417.80" y="400.90" width="38.10" height="10.00"/></clipPath>
<rect x="417.80" y="400.90" width="38.10" height="10.00" fill="#ececec"/>
<g clip-path="url(#c512)"><g filter="url(#k1)"><rect x="437.56" y="405.60" width="8.10" height="1.80" rx="0.41" fill-opacity="0.75"/><rect x="447.09" y="405.70" width="8.10" height="1.60" rx="0.36" fill-opacity="0.55"/></g></g>
<clipPath id="c515"><rect x="417.80" y="412.10" width="38.10" height="12.00"/></clipPath>
<rect x="417.80" y="412.10" width="38.10" height="12.00" fill="#eaeaea"/>
<g clip-path="url(#c515)"><g filter="url(#k1)"><rect x="417.70" y="416.80" width="9.72" height="2.60" rx="0.59" fill-opacity="0.92"/><rect x="427.23" y="416.60" width="9.72" height="2.80" rx="0.63" fill-opacity="0.95"/></g></g>
<clipPath id="c518"><rect x="460.90" y="355.90" width="37.60" height="27.70"/></clipPath>
<rect x="460.90" y="355.90" width="37.60" height="27.70" fill="#ececec"/>
<g clip-path="url(#c518)"><g filter="url(#k1)"><rect x="461.60" y="363.50" width="7.99" height="17.00" rx="1.80" fill-opacity="0.22"/><rect x="461.60" y="363.90" width="7.99" height="2.20" rx="0.50" fill-opacity="0.30"/><rect x="461.60" y="366.90" width="7.99" height="2.20" rx="0.50" fill-opacity="0.30"/><rect x="461.60" y="369.90" width="7.99" height="2.20" rx="0.50" fill-opacity="0.22"/><rect x="471.00" y="362.00" width="7.99" height="8.00" rx="1.80" fill-opacity="0.16"/><rect x="471.00" y="362.90" width="7.99" height="2.20" rx="0.50" fill-opacity="0.25"/><rect x="471.00" y="366.70" width="7.99" height="2.20" rx="0.50" fill-opacity="0.22"/><rect x="480.40" y="369.00" width="7.99" height="6.00" rx="1.35" fill-opacity="0.04"/><rect x="489.80" y="369.00" width="7.99" height="6.00" rx="1.35" fill-opacity="0.04"/></g></g>
<clipPath id="c521"><rect x="460.90" y="385.00" width="37.60" height="14.80"/></clipPath>
<rect x="460.90" y="385.00" width="37.60" height="14.80" fill="#f0f0f0"/>
<g clip-path="url(#c521)"><g filter="url(#k1)"><rect x="461.41" y="388.30" width="8.39" height="3.00" rx="0.68" fill-opacity="0.97"/><rect x="461.60" y="392.20" width="7.99" height="3.00" rx="0.68" fill-opacity="0.90"/><rect x="461.60" y="396.50" width="7.99" height="2.00" rx="0.45" fill-opacity="0.40"/><rect x="471.00" y="388.60" width="7.99" height="2.40" rx="0.54" fill-opacity="0.88"/><rect x="480.40" y="390.00" width="7.99" height="2.00" rx="0.45" fill-opacity="0.12"/><rect x="489.80" y="390.00" width="7.99" height="2.00" rx="0.45" fill-opacity="0.15"/></g></g>
<clipPath id="c524"><rect x="460.90" y="400.90" width="37.60" height="10.00"/></clipPath>
<rect x="460.90" y="400.90" width="37.60" height="10.00" fill="#ececec"/>
<g clip-path="url(#c524)"><g filter="url(#k1)"><rect x="480.21" y="403.70" width="8.39" height="2.20" rx="0.50" fill-opacity="0.90"/><rect x="489.41" y="404.30" width="8.79" height="2.80" rx="0.63" fill-opacity="0.97"/></g></g>
<clipPath id="c527"><rect x="460.90" y="412.10" width="37.60" height="12.00"/></clipPath>
<rect x="460.90" y="412.10" width="37.60" height="12.00" fill="#e8e8e8"/>
<g clip-path="url(#c527)"><g filter="url(#k1)"><rect x="460.81" y="417.40" width="9.59" height="2.60" rx="0.59" fill-opacity="0.95"/><rect x="470.21" y="417.40" width="9.59" height="2.60" rx="0.59" fill-opacity="0.95"/></g></g>
<rect x="0.5" y="0.5" width="519" height="431" fill="none" stroke="#000" stroke-width="1"/>
</svg>
</body></html>
